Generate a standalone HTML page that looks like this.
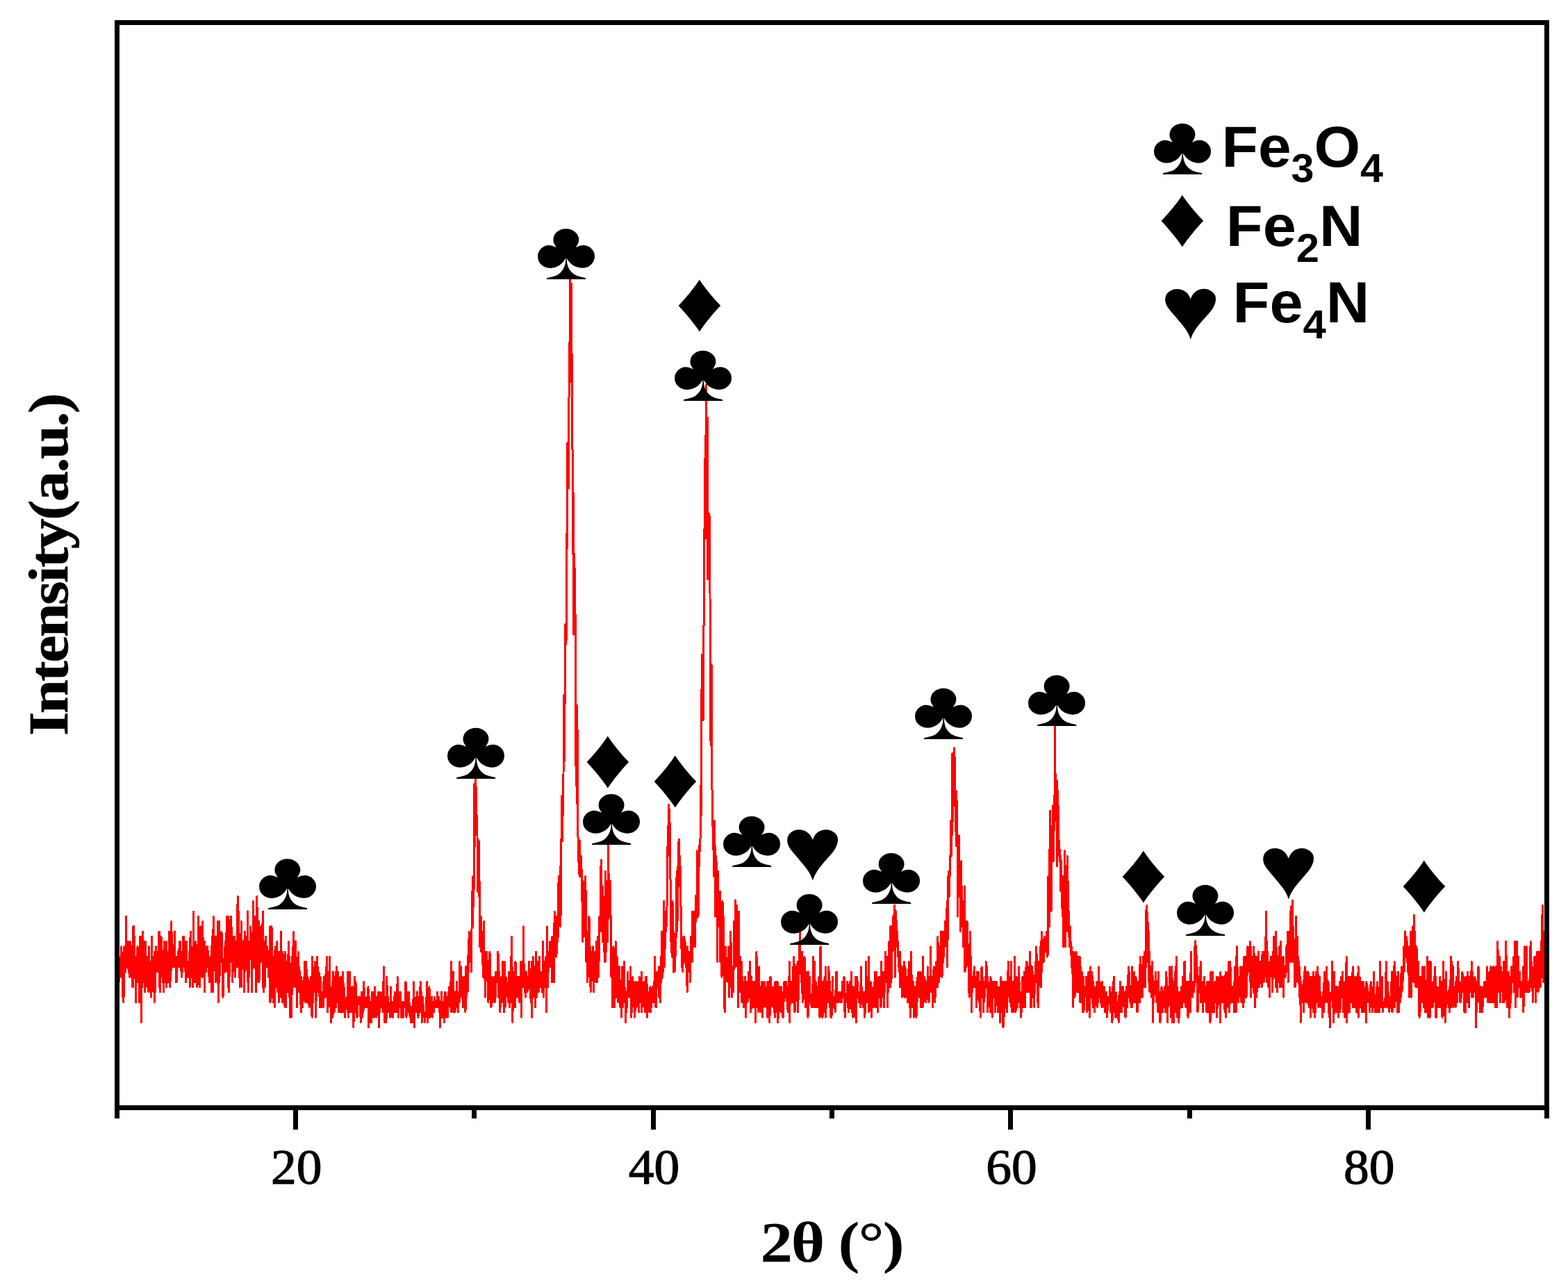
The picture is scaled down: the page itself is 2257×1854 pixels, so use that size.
<!DOCTYPE html>
<html lang="en"><head><meta charset="utf-8"><title>XRD pattern</title>
<style>html,body{margin:0;padding:0;background:#fff}body{width:2257px;height:1854px;overflow:hidden}svg{display:block}.sym{font-family:"Liberation Sans",sans-serif;font-size:200px;fill:#000}.tk{font-family:"Liberation Serif",serif;font-size:71px;fill:#000;text-anchor:middle;stroke:#000;stroke-width:1.2px}.ax{font-family:"Liberation Serif",serif;font-weight:bold;font-size:83px;fill:#000;text-anchor:middle}.lg{font-family:"Liberation Sans",sans-serif;font-weight:bold;font-size:84px;fill:#000}.sb{font-size:58px}</style></head><body>
<svg width="2257" height="1854" viewBox="0 0 2257 1854">
<rect width="2257" height="1854" fill="#fff"/>
<path d="M168.2,1370.0 L168.7,1406.2 L169.2,1370.0 L169.7,1406.2 L170.2,1413.5 L170.7,1391.8 L171.3,1413.5 L171.8,1384.5 L172.3,1391.8 L172.8,1384.5 L173.3,1391.8 L173.8,1377.2 L174.3,1406.2 L174.9,1362.8 L175.4,1391.8 L175.9,1377.2 L176.4,1435.2 L176.9,1391.8 L177.4,1406.2 L177.9,1442.5 L178.5,1406.2 L179.0,1362.8 L179.5,1384.5 L180.0,1377.2 L180.5,1399.0 L181.0,1399.0 L181.5,1319.2 L182.1,1377.2 L182.6,1355.5 L183.1,1384.5 L183.6,1384.5 L184.1,1355.5 L184.6,1384.5 L185.2,1399.0 L185.7,1391.8 L186.2,1406.2 L186.7,1399.0 L187.2,1355.5 L187.7,1384.5 L188.2,1406.2 L188.8,1362.8 L189.3,1399.0 L189.8,1362.8 L190.3,1370.0 L190.8,1420.8 L191.3,1420.8 L191.8,1333.8 L192.4,1406.2 L192.9,1333.8 L193.4,1391.8 L193.9,1370.0 L194.4,1399.0 L194.9,1399.0 L195.4,1442.5 L196.0,1413.5 L196.5,1377.2 L197.0,1406.2 L197.5,1413.5 L198.0,1362.8 L198.5,1384.5 L199.0,1384.5 L199.6,1391.8 L200.1,1377.2 L200.6,1442.5 L201.1,1370.0 L201.6,1348.2 L202.1,1355.5 L202.6,1348.2 L203.2,1471.5 L203.7,1413.5 L204.2,1420.8 L204.7,1420.8 L205.2,1341.0 L205.7,1362.8 L206.3,1384.5 L206.8,1384.5 L207.3,1355.5 L207.8,1406.2 L208.3,1428.0 L208.8,1362.8 L209.3,1355.5 L209.9,1384.5 L210.4,1384.5 L210.9,1377.2 L211.4,1406.2 L211.9,1420.8 L212.4,1377.2 L212.9,1399.0 L213.5,1391.8 L214.0,1428.0 L214.5,1362.8 L215.0,1399.0 L215.5,1413.5 L216.0,1406.2 L216.5,1384.5 L217.1,1435.2 L217.6,1428.0 L218.1,1428.0 L218.6,1348.2 L219.1,1406.2 L219.6,1377.2 L220.1,1391.8 L220.7,1399.0 L221.2,1428.0 L221.7,1377.2 L222.2,1442.5 L222.7,1370.0 L223.2,1406.2 L223.8,1428.0 L224.3,1362.8 L224.8,1362.8 L225.3,1377.2 L225.8,1370.0 L226.3,1370.0 L226.8,1399.0 L227.4,1384.5 L227.9,1384.5 L228.4,1399.0 L228.9,1341.0 L229.4,1420.8 L229.9,1341.0 L230.4,1428.0 L231.0,1384.5 L231.5,1370.0 L232.0,1348.2 L232.5,1362.8 L233.0,1391.8 L233.5,1406.2 L234.0,1370.0 L234.6,1413.5 L235.1,1413.5 L235.6,1428.0 L236.1,1355.5 L236.6,1413.5 L237.1,1406.2 L237.6,1406.2 L238.2,1377.2 L238.7,1399.0 L239.2,1355.5 L239.7,1420.8 L240.2,1413.5 L240.7,1391.8 L241.2,1377.2 L241.8,1413.5 L242.3,1370.0 L242.8,1406.2 L243.3,1370.0 L243.8,1341.0 L244.3,1399.0 L244.9,1420.8 L245.4,1384.5 L245.9,1406.2 L246.4,1370.0 L246.9,1326.5 L247.4,1391.8 L247.9,1355.5 L248.5,1377.2 L249.0,1384.5 L249.5,1391.8 L250.0,1370.0 L250.5,1370.0 L251.0,1384.5 L251.5,1341.0 L252.1,1391.8 L252.6,1384.5 L253.1,1377.2 L253.6,1413.5 L254.1,1413.5 L254.6,1384.5 L255.1,1391.8 L255.7,1377.2 L256.2,1384.5 L256.7,1370.0 L257.2,1391.8 L257.7,1384.5 L258.2,1355.5 L258.7,1391.8 L259.3,1355.5 L259.8,1384.5 L260.3,1370.0 L260.8,1391.8 L261.3,1406.2 L261.8,1399.0 L262.4,1399.0 L262.9,1399.0 L263.4,1348.2 L263.9,1370.0 L264.4,1348.2 L264.9,1384.5 L265.4,1391.8 L266.0,1355.5 L266.5,1362.8 L267.0,1399.0 L267.5,1413.5 L268.0,1370.0 L268.5,1355.5 L269.0,1406.2 L269.6,1399.0 L270.1,1406.2 L270.6,1384.5 L271.1,1406.2 L271.6,1406.2 L272.1,1391.8 L272.6,1370.0 L273.2,1420.8 L273.7,1362.8 L274.2,1341.0 L274.7,1377.2 L275.2,1362.8 L275.7,1406.2 L276.2,1384.5 L276.8,1391.8 L277.3,1420.8 L277.8,1413.5 L278.3,1312.0 L278.8,1413.5 L279.3,1384.5 L279.8,1384.5 L280.4,1406.2 L280.9,1413.5 L281.4,1391.8 L281.9,1355.5 L282.4,1370.0 L282.9,1370.0 L283.5,1362.8 L284.0,1420.8 L284.5,1377.2 L285.0,1370.0 L285.5,1319.2 L286.0,1399.0 L286.5,1370.0 L287.1,1399.0 L287.6,1420.8 L288.1,1399.0 L288.6,1333.8 L289.1,1341.0 L289.6,1348.2 L290.1,1406.2 L290.7,1355.5 L291.2,1406.2 L291.7,1326.5 L292.2,1362.8 L292.7,1355.5 L293.2,1384.5 L293.7,1377.2 L294.3,1428.0 L294.8,1355.5 L295.3,1399.0 L295.8,1384.5 L296.3,1399.0 L296.8,1370.0 L297.3,1391.8 L297.9,1362.8 L298.4,1362.8 L298.9,1362.8 L299.4,1384.5 L299.9,1384.5 L300.4,1399.0 L301.0,1406.2 L301.5,1413.5 L302.0,1384.5 L302.5,1399.0 L303.0,1377.2 L303.5,1384.5 L304.0,1391.8 L304.6,1428.0 L305.1,1348.2 L305.6,1399.0 L306.1,1391.8 L306.6,1428.0 L307.1,1319.2 L307.6,1370.0 L308.2,1377.2 L308.7,1370.0 L309.2,1377.2 L309.7,1370.0 L310.2,1413.5 L310.7,1348.2 L311.2,1377.2 L311.8,1384.5 L312.3,1391.8 L312.8,1362.8 L313.3,1326.5 L313.8,1399.0 L314.3,1442.5 L314.8,1406.2 L315.4,1326.5 L315.9,1413.5 L316.4,1377.2 L316.9,1384.5 L317.4,1355.5 L317.9,1348.2 L318.4,1355.5 L319.0,1341.0 L319.5,1384.5 L320.0,1377.2 L320.5,1413.5 L321.0,1435.2 L321.5,1413.5 L322.1,1391.8 L322.6,1399.0 L323.1,1391.8 L323.6,1399.0 L324.1,1355.5 L324.6,1391.8 L325.1,1399.0 L325.7,1384.5 L326.2,1319.2 L326.7,1355.5 L327.2,1362.8 L327.7,1333.8 L328.2,1420.8 L328.7,1319.2 L329.3,1326.5 L329.8,1428.0 L330.3,1377.2 L330.8,1355.5 L331.3,1348.2 L331.8,1377.2 L332.3,1319.2 L332.9,1319.2 L333.4,1384.5 L333.9,1377.2 L334.4,1384.5 L334.9,1413.5 L335.4,1348.2 L335.9,1362.8 L336.5,1399.0 L337.0,1391.8 L337.5,1348.2 L338.0,1391.8 L338.5,1406.2 L339.0,1355.5 L339.6,1391.8 L340.1,1370.0 L340.6,1384.5 L341.1,1362.8 L341.6,1355.5 L342.1,1290.2 L342.6,1391.8 L343.2,1312.0 L343.7,1370.0 L344.2,1355.5 L344.7,1384.5 L345.2,1420.8 L345.7,1384.5 L346.2,1377.2 L346.8,1355.5 L347.3,1326.5 L347.8,1420.8 L348.3,1362.8 L348.8,1384.5 L349.3,1355.5 L349.8,1362.8 L350.4,1391.8 L350.9,1355.5 L351.4,1428.0 L351.9,1355.5 L352.4,1341.0 L352.9,1399.0 L353.4,1391.8 L354.0,1377.2 L354.5,1370.0 L355.0,1377.2 L355.5,1348.2 L356.0,1384.5 L356.5,1312.0 L357.0,1413.5 L357.6,1428.0 L358.1,1370.0 L358.6,1406.2 L359.1,1377.2 L359.6,1355.5 L360.1,1362.8 L360.7,1333.8 L361.2,1348.2 L361.7,1362.8 L362.2,1377.2 L362.7,1428.0 L363.2,1377.2 L363.7,1391.8 L364.3,1297.5 L364.8,1377.2 L365.3,1391.8 L365.8,1391.8 L366.3,1384.5 L366.8,1319.2 L367.3,1341.0 L367.9,1384.5 L368.4,1428.0 L368.9,1362.8 L369.4,1348.2 L369.9,1290.2 L370.4,1362.8 L370.9,1406.2 L371.5,1391.8 L372.0,1413.5 L372.5,1326.5 L373.0,1413.5 L373.5,1370.0 L374.0,1384.5 L374.5,1362.8 L375.1,1384.5 L375.6,1333.8 L376.1,1362.8 L376.6,1341.0 L377.1,1377.2 L377.6,1370.0 L378.2,1312.0 L378.7,1413.5 L379.2,1428.0 L379.7,1377.2 L380.2,1420.8 L380.7,1355.5 L381.2,1420.8 L381.8,1377.2 L382.3,1348.2 L382.8,1384.5 L383.3,1384.5 L383.8,1370.0 L384.3,1391.8 L384.8,1362.8 L385.4,1377.2 L385.9,1391.8 L386.4,1391.8 L386.9,1406.2 L387.4,1406.2 L387.9,1399.0 L388.4,1333.8 L389.0,1442.5 L389.5,1420.8 L390.0,1413.5 L390.5,1406.2 L391.0,1333.8 L391.5,1362.8 L392.0,1413.5 L392.6,1413.5 L393.1,1442.5 L393.6,1377.2 L394.1,1428.0 L394.6,1413.5 L395.1,1449.8 L395.6,1377.2 L396.2,1362.8 L396.7,1370.0 L397.2,1384.5 L397.7,1420.8 L398.2,1391.8 L398.7,1355.5 L399.3,1428.0 L399.8,1377.2 L400.3,1399.0 L400.8,1391.8 L401.3,1442.5 L401.8,1370.0 L402.3,1413.5 L402.9,1413.5 L403.4,1384.5 L403.9,1377.2 L404.4,1341.0 L404.9,1435.2 L405.4,1420.8 L405.9,1399.0 L406.5,1442.5 L407.0,1370.0 L407.5,1435.2 L408.0,1406.2 L408.5,1406.2 L409.0,1413.5 L409.5,1435.2 L410.1,1449.8 L410.6,1370.0 L411.1,1428.0 L411.6,1449.8 L412.1,1420.8 L412.6,1428.0 L413.1,1384.5 L413.7,1420.8 L414.2,1391.8 L414.7,1406.2 L415.2,1355.5 L415.7,1420.8 L416.2,1435.2 L416.8,1377.2 L417.3,1399.0 L417.8,1464.2 L418.3,1413.5 L418.8,1413.5 L419.3,1399.0 L419.8,1464.2 L420.4,1377.2 L420.9,1406.2 L421.4,1362.8 L421.9,1420.8 L422.4,1391.8 L422.9,1341.0 L423.4,1391.8 L424.0,1413.5 L424.5,1399.0 L425.0,1420.8 L425.5,1355.5 L426.0,1420.8 L426.5,1384.5 L427.0,1384.5 L427.6,1449.8 L428.1,1420.8 L428.6,1413.5 L429.1,1370.0 L429.6,1428.0 L430.1,1406.2 L430.6,1391.8 L431.2,1399.0 L431.7,1406.2 L432.2,1420.8 L432.7,1428.0 L433.2,1457.0 L433.7,1406.2 L434.2,1413.5 L434.8,1420.8 L435.3,1413.5 L435.8,1449.8 L436.3,1428.0 L436.8,1413.5 L437.3,1435.2 L437.9,1413.5 L438.4,1384.5 L438.9,1413.5 L439.4,1442.5 L439.9,1406.2 L440.4,1435.2 L440.9,1384.5 L441.5,1442.5 L442.0,1442.5 L442.5,1413.5 L443.0,1406.2 L443.5,1442.5 L444.0,1428.0 L444.5,1428.0 L445.1,1449.8 L445.6,1420.8 L446.1,1413.5 L446.6,1442.5 L447.1,1406.2 L447.6,1420.8 L448.1,1420.8 L448.7,1457.0 L449.2,1464.2 L449.7,1377.2 L450.2,1442.5 L450.7,1442.5 L451.2,1413.5 L451.7,1406.2 L452.3,1391.8 L452.8,1420.8 L453.3,1384.5 L453.8,1428.0 L454.3,1399.0 L454.8,1464.2 L455.4,1399.0 L455.9,1413.5 L456.4,1377.2 L456.9,1428.0 L457.4,1391.8 L457.9,1428.0 L458.4,1413.5 L459.0,1399.0 L459.5,1428.0 L460.0,1435.2 L460.5,1449.8 L461.0,1406.2 L461.5,1413.5 L462.0,1442.5 L462.6,1449.8 L463.1,1428.0 L463.6,1449.8 L464.1,1435.2 L464.6,1428.0 L465.1,1449.8 L465.6,1428.0 L466.2,1406.2 L466.7,1428.0 L467.2,1413.5 L467.7,1435.2 L468.2,1435.2 L468.7,1420.8 L469.2,1391.8 L469.8,1413.5 L470.3,1428.0 L470.8,1377.2 L471.3,1428.0 L471.8,1457.0 L472.3,1420.8 L472.8,1420.8 L473.4,1442.5 L473.9,1442.5 L474.4,1377.2 L474.9,1449.8 L475.4,1428.0 L475.9,1428.0 L476.5,1471.5 L477.0,1435.2 L477.5,1420.8 L478.0,1442.5 L478.5,1413.5 L479.0,1464.2 L479.5,1399.0 L480.1,1457.0 L480.6,1406.2 L481.1,1457.0 L481.6,1435.2 L482.1,1428.0 L482.6,1442.5 L483.1,1399.0 L483.7,1449.8 L484.2,1391.8 L484.7,1420.8 L485.2,1442.5 L485.7,1428.0 L486.2,1399.0 L486.7,1406.2 L487.3,1457.0 L487.8,1420.8 L488.3,1413.5 L488.8,1457.0 L489.3,1413.5 L489.8,1406.2 L490.3,1435.2 L490.9,1413.5 L491.4,1457.0 L491.9,1457.0 L492.4,1406.2 L492.9,1428.0 L493.4,1399.0 L494.0,1413.5 L494.5,1457.0 L495.0,1420.8 L495.5,1435.2 L496.0,1435.2 L496.5,1464.2 L497.0,1442.5 L497.6,1449.8 L498.1,1442.5 L498.6,1442.5 L499.1,1449.8 L499.6,1435.2 L500.1,1457.0 L500.6,1399.0 L501.2,1464.2 L501.7,1457.0 L502.2,1428.0 L502.7,1428.0 L503.2,1399.0 L503.7,1428.0 L504.2,1442.5 L504.8,1457.0 L505.3,1449.8 L505.8,1457.0 L506.3,1420.8 L506.8,1428.0 L507.3,1420.8 L507.8,1457.0 L508.4,1435.2 L508.9,1478.8 L509.4,1442.5 L509.9,1457.0 L510.4,1406.2 L510.9,1442.5 L511.4,1428.0 L512.0,1413.5 L512.5,1457.0 L513.0,1442.5 L513.5,1442.5 L514.0,1464.2 L514.5,1457.0 L515.1,1442.5 L515.6,1435.2 L516.1,1435.2 L516.6,1435.2 L517.1,1435.2 L517.6,1435.2 L518.1,1449.8 L518.7,1449.8 L519.2,1471.5 L519.7,1449.8 L520.2,1428.0 L520.7,1442.5 L521.2,1457.0 L521.7,1464.2 L522.3,1435.2 L522.8,1457.0 L523.3,1449.8 L523.8,1413.5 L524.3,1435.2 L524.8,1435.2 L525.3,1442.5 L525.9,1449.8 L526.4,1442.5 L526.9,1442.5 L527.4,1449.8 L527.9,1435.2 L528.4,1442.5 L528.9,1442.5 L529.5,1428.0 L530.0,1420.8 L530.5,1478.8 L531.0,1471.5 L531.5,1435.2 L532.0,1471.5 L532.6,1449.8 L533.1,1449.8 L533.6,1449.8 L534.1,1442.5 L534.6,1471.5 L535.1,1464.2 L535.6,1428.0 L536.2,1435.2 L536.7,1428.0 L537.2,1449.8 L537.7,1449.8 L538.2,1464.2 L538.7,1428.0 L539.2,1428.0 L539.8,1420.8 L540.3,1449.8 L540.8,1449.8 L541.3,1464.2 L541.8,1464.2 L542.3,1435.2 L542.8,1442.5 L543.4,1449.8 L543.9,1449.8 L544.4,1428.0 L544.9,1457.0 L545.4,1478.8 L545.9,1435.2 L546.4,1457.0 L547.0,1428.0 L547.5,1442.5 L548.0,1442.5 L548.5,1449.8 L549.0,1449.8 L549.5,1442.5 L550.0,1428.0 L550.6,1435.2 L551.1,1457.0 L551.6,1413.5 L552.1,1428.0 L552.6,1391.8 L553.1,1449.8 L553.7,1471.5 L554.2,1435.2 L554.7,1457.0 L555.2,1442.5 L555.7,1471.5 L556.2,1464.2 L556.7,1406.2 L557.3,1428.0 L557.8,1449.8 L558.3,1435.2 L558.8,1449.8 L559.3,1442.5 L559.8,1457.0 L560.3,1449.8 L560.9,1457.0 L561.4,1457.0 L561.9,1464.2 L562.4,1420.8 L562.9,1457.0 L563.4,1457.0 L563.9,1449.8 L564.5,1442.5 L565.0,1464.2 L565.5,1464.2 L566.0,1442.5 L566.5,1457.0 L567.0,1442.5 L567.5,1435.2 L568.1,1442.5 L568.6,1428.0 L569.1,1442.5 L569.6,1457.0 L570.1,1435.2 L570.6,1428.0 L571.2,1428.0 L571.7,1435.2 L572.2,1406.2 L572.7,1457.0 L573.2,1449.8 L573.7,1464.2 L574.2,1442.5 L574.8,1442.5 L575.3,1449.8 L575.8,1428.0 L576.3,1428.0 L576.8,1449.8 L577.3,1442.5 L577.8,1464.2 L578.4,1449.8 L578.9,1464.2 L579.4,1442.5 L579.9,1464.2 L580.4,1464.2 L580.9,1449.8 L581.4,1442.5 L582.0,1442.5 L582.5,1449.8 L583.0,1442.5 L583.5,1449.8 L584.0,1413.5 L584.5,1442.5 L585.0,1464.2 L585.6,1428.0 L586.1,1457.0 L586.6,1457.0 L587.1,1457.0 L587.6,1442.5 L588.1,1449.8 L588.6,1428.0 L589.2,1449.8 L589.7,1457.0 L590.2,1464.2 L590.7,1449.8 L591.2,1471.5 L591.7,1449.8 L592.3,1449.8 L592.8,1471.5 L593.3,1449.8 L593.8,1457.0 L594.3,1471.5 L594.8,1457.0 L595.3,1413.5 L595.9,1464.2 L596.4,1478.8 L596.9,1457.0 L597.4,1442.5 L597.9,1457.0 L598.4,1442.5 L598.9,1435.2 L599.5,1457.0 L600.0,1449.8 L600.5,1428.0 L601.0,1442.5 L601.5,1435.2 L602.0,1464.2 L602.5,1435.2 L603.1,1449.8 L603.6,1435.2 L604.1,1442.5 L604.6,1457.0 L605.1,1413.5 L605.6,1457.0 L606.1,1457.0 L606.7,1428.0 L607.2,1471.5 L607.7,1449.8 L608.2,1449.8 L608.7,1435.2 L609.2,1449.8 L609.8,1449.8 L610.3,1464.2 L610.8,1457.0 L611.3,1471.5 L611.8,1457.0 L612.3,1464.2 L612.8,1464.2 L613.4,1449.8 L613.9,1435.2 L614.4,1457.0 L614.9,1413.5 L615.4,1471.5 L615.9,1442.5 L616.4,1464.2 L617.0,1457.0 L617.5,1464.2 L618.0,1420.8 L618.5,1464.2 L619.0,1464.2 L619.5,1449.8 L620.0,1449.8 L620.6,1457.0 L621.1,1449.8 L621.6,1435.2 L622.1,1449.8 L622.6,1464.2 L623.1,1449.8 L623.6,1457.0 L624.2,1442.5 L624.7,1457.0 L625.2,1435.2 L625.7,1449.8 L626.2,1442.5 L626.7,1442.5 L627.2,1449.8 L627.8,1442.5 L628.3,1449.8 L628.8,1442.5 L629.3,1435.2 L629.8,1428.0 L630.3,1449.8 L630.9,1435.2 L631.4,1435.2 L631.9,1435.2 L632.4,1457.0 L632.9,1449.8 L633.4,1478.8 L633.9,1442.5 L634.5,1449.8 L635.0,1449.8 L635.5,1428.0 L636.0,1464.2 L636.5,1442.5 L637.0,1464.2 L637.5,1442.5 L638.1,1442.5 L638.6,1442.5 L639.1,1471.5 L639.6,1435.2 L640.1,1449.8 L640.6,1428.0 L641.1,1428.0 L641.7,1457.0 L642.2,1449.8 L642.7,1464.2 L643.2,1442.5 L643.7,1449.8 L644.2,1435.2 L644.7,1464.2 L645.3,1428.0 L645.8,1442.5 L646.3,1442.5 L646.8,1420.8 L647.3,1428.0 L647.8,1449.8 L648.4,1420.8 L648.9,1420.8 L649.4,1384.5 L649.9,1457.0 L650.4,1406.2 L650.9,1406.2 L651.4,1413.5 L652.0,1449.8 L652.5,1399.0 L653.0,1457.0 L653.5,1457.0 L654.0,1435.2 L654.5,1428.0 L655.0,1457.0 L655.6,1435.2 L656.1,1428.0 L656.6,1442.5 L657.1,1442.5 L657.6,1413.5 L658.1,1449.8 L658.6,1435.2 L659.2,1457.0 L659.7,1449.8 L660.2,1428.0 L660.7,1435.2 L661.2,1442.5 L661.7,1384.5 L662.2,1413.5 L662.8,1413.5 L663.3,1391.8 L663.8,1391.8 L664.3,1435.2 L664.8,1406.2 L665.3,1428.0 L665.8,1413.5 L666.4,1449.8 L666.9,1449.8 L667.4,1413.5 L667.9,1406.2 L668.4,1435.2 L668.9,1428.0 L669.5,1420.8 L670.0,1457.0 L670.5,1391.8 L671.0,1406.2 L671.5,1435.2 L672.0,1391.8 L672.5,1420.8 L673.1,1428.0 L673.6,1399.0 L674.1,1370.0 L674.6,1399.0 L675.1,1341.0 L675.6,1384.5 L676.1,1348.2 L676.7,1370.0 L677.2,1384.5 L677.7,1355.5 L678.2,1399.0 L678.7,1370.0 L679.2,1319.2 L679.7,1283.0 L680.3,1333.8 L680.8,1261.2 L681.3,1268.5 L681.8,1304.8 L682.3,1246.8 L682.8,1128.2 L683.3,1217.8 L683.9,1181.5 L684.4,1159.8 L684.9,1121.0 L685.4,1167.0 L685.9,1174.2 L686.4,1174.2 L687.0,1203.2 L687.5,1283.0 L688.0,1232.2 L688.5,1275.8 L689.0,1210.5 L689.5,1290.2 L690.0,1268.5 L690.6,1362.8 L691.1,1326.5 L691.6,1333.8 L692.1,1319.2 L692.6,1370.0 L693.1,1341.0 L693.6,1355.5 L694.2,1341.0 L694.7,1370.0 L695.2,1399.0 L695.7,1406.2 L696.2,1406.2 L696.7,1326.5 L697.2,1399.0 L697.8,1391.8 L698.3,1435.2 L698.8,1391.8 L699.3,1370.0 L699.8,1406.2 L700.3,1370.0 L700.8,1377.2 L701.4,1391.8 L701.9,1406.2 L702.4,1435.2 L702.9,1442.5 L703.4,1428.0 L703.9,1391.8 L704.4,1420.8 L705.0,1370.0 L705.5,1420.8 L706.0,1435.2 L706.5,1442.5 L707.0,1449.8 L707.5,1435.2 L708.1,1406.2 L708.6,1435.2 L709.1,1442.5 L709.6,1420.8 L710.1,1435.2 L710.6,1428.0 L711.1,1406.2 L711.7,1413.5 L712.2,1442.5 L712.7,1435.2 L713.2,1435.2 L713.7,1399.0 L714.2,1406.2 L714.7,1406.2 L715.3,1413.5 L715.8,1413.5 L716.3,1413.5 L716.8,1370.0 L717.3,1377.2 L717.8,1435.2 L718.3,1406.2 L718.9,1399.0 L719.4,1435.2 L719.9,1457.0 L720.4,1428.0 L720.9,1435.2 L721.4,1435.2 L721.9,1406.2 L722.5,1420.8 L723.0,1442.5 L723.5,1384.5 L724.0,1420.8 L724.5,1442.5 L725.0,1399.0 L725.6,1457.0 L726.1,1384.5 L726.6,1428.0 L727.1,1449.8 L727.6,1435.2 L728.1,1406.2 L728.6,1428.0 L729.2,1413.5 L729.7,1428.0 L730.2,1420.8 L730.7,1435.2 L731.2,1435.2 L731.7,1442.5 L732.2,1428.0 L732.8,1399.0 L733.3,1449.8 L733.8,1406.2 L734.3,1435.2 L734.8,1442.5 L735.3,1377.2 L735.8,1391.8 L736.4,1348.2 L736.9,1428.0 L737.4,1391.8 L737.9,1471.5 L738.4,1406.2 L738.9,1428.0 L739.4,1428.0 L740.0,1435.2 L740.5,1399.0 L741.0,1428.0 L741.5,1449.8 L742.0,1384.5 L742.5,1406.2 L743.0,1428.0 L743.6,1435.2 L744.1,1406.2 L744.6,1428.0 L745.1,1406.2 L745.6,1435.2 L746.1,1413.5 L746.7,1406.2 L747.2,1435.2 L747.7,1442.5 L748.2,1413.5 L748.7,1413.5 L749.2,1442.5 L749.7,1384.5 L750.3,1464.2 L750.8,1391.8 L751.3,1406.2 L751.8,1420.8 L752.3,1384.5 L752.8,1420.8 L753.3,1333.8 L753.9,1377.2 L754.4,1420.8 L754.9,1399.0 L755.4,1413.5 L755.9,1428.0 L756.4,1435.2 L756.9,1428.0 L757.5,1399.0 L758.0,1420.8 L758.5,1420.8 L759.0,1428.0 L759.5,1413.5 L760.0,1406.2 L760.5,1420.8 L761.1,1413.5 L761.6,1384.5 L762.1,1406.2 L762.6,1406.2 L763.1,1428.0 L763.6,1428.0 L764.2,1442.5 L764.7,1413.5 L765.2,1384.5 L765.7,1464.2 L766.2,1413.5 L766.7,1399.0 L767.2,1377.2 L767.8,1435.2 L768.3,1420.8 L768.8,1413.5 L769.3,1391.8 L769.8,1399.0 L770.3,1449.8 L770.8,1428.0 L771.4,1370.0 L771.9,1377.2 L772.4,1420.8 L772.9,1435.2 L773.4,1399.0 L773.9,1413.5 L774.4,1384.5 L775.0,1413.5 L775.5,1428.0 L776.0,1391.8 L776.5,1377.2 L777.0,1406.2 L777.5,1399.0 L778.0,1420.8 L778.6,1399.0 L779.1,1420.8 L779.6,1413.5 L780.1,1420.8 L780.6,1428.0 L781.1,1399.0 L781.6,1355.5 L782.2,1399.0 L782.7,1435.2 L783.2,1384.5 L783.7,1384.5 L784.2,1420.8 L784.7,1384.5 L785.3,1420.8 L785.8,1377.2 L786.3,1457.0 L786.8,1399.0 L787.3,1391.8 L787.8,1333.8 L788.3,1420.8 L788.9,1384.5 L789.4,1399.0 L789.9,1399.0 L790.4,1370.0 L790.9,1391.8 L791.4,1391.8 L791.9,1355.5 L792.5,1370.0 L793.0,1377.2 L793.5,1384.5 L794.0,1384.5 L794.5,1413.5 L795.0,1348.2 L795.5,1348.2 L796.1,1370.0 L796.6,1348.2 L797.1,1355.5 L797.6,1413.5 L798.1,1312.0 L798.6,1341.0 L799.1,1333.8 L799.7,1319.2 L800.2,1362.8 L800.7,1377.2 L801.2,1370.0 L801.7,1341.0 L802.2,1319.2 L802.8,1355.5 L803.3,1341.0 L803.8,1275.8 L804.3,1261.2 L804.8,1290.2 L805.3,1304.8 L805.8,1297.5 L806.4,1246.8 L806.9,1333.8 L807.4,1268.5 L807.9,1210.5 L808.4,1196.0 L808.9,1145.2 L809.4,1210.5 L810.0,1174.2 L810.5,1159.8 L811.0,1116.2 L811.5,1029.2 L812.0,1000.2 L812.5,1094.5 L813.0,1014.8 L813.6,898.8 L814.1,920.5 L814.6,927.8 L815.1,920.5 L815.6,768.2 L816.1,790.0 L816.6,637.8 L817.2,652.2 L817.7,659.5 L818.2,688.5 L818.7,703.0 L819.2,500.0 L819.7,492.8 L820.2,550.8 L820.8,401.0 L821.3,434.8 L821.8,463.8 L822.3,471.0 L822.8,408.2 L823.3,645.0 L823.9,623.2 L824.4,732.0 L824.9,797.2 L825.4,710.2 L825.9,913.2 L826.4,797.2 L826.9,804.5 L827.5,869.8 L828.0,884.2 L828.5,1101.8 L829.0,1087.2 L829.5,1130.8 L830.0,1014.8 L830.5,1109.0 L831.1,1167.0 L831.6,1051.0 L832.1,1239.5 L832.6,1217.8 L833.1,1210.5 L833.6,1246.8 L834.1,1261.2 L834.7,1210.5 L835.2,1254.0 L835.7,1261.2 L836.2,1254.0 L836.7,1232.2 L837.2,1261.2 L837.7,1290.2 L838.3,1304.8 L838.8,1355.5 L839.3,1268.5 L839.8,1333.8 L840.3,1348.2 L840.8,1341.0 L841.4,1290.2 L841.9,1319.2 L842.4,1304.8 L842.9,1261.2 L843.4,1348.2 L843.9,1384.5 L844.4,1370.0 L845.0,1341.0 L845.5,1413.5 L846.0,1341.0 L846.5,1406.2 L847.0,1377.2 L847.5,1326.5 L848.0,1319.2 L848.6,1377.2 L849.1,1362.8 L849.6,1384.5 L850.1,1428.0 L850.6,1370.0 L851.1,1399.0 L851.6,1406.2 L852.2,1384.5 L852.7,1384.5 L853.2,1362.8 L853.7,1384.5 L854.2,1428.0 L854.7,1377.2 L855.2,1399.0 L855.8,1370.0 L856.3,1391.8 L856.8,1370.0 L857.3,1384.5 L857.8,1413.5 L858.3,1355.5 L858.8,1384.5 L859.4,1413.5 L859.9,1399.0 L860.4,1348.2 L860.9,1362.8 L861.4,1406.2 L861.9,1391.8 L862.5,1355.5 L863.0,1319.2 L863.5,1326.5 L864.0,1341.0 L864.5,1312.0 L865.0,1246.8 L865.5,1238.0 L866.1,1297.5 L866.6,1341.0 L867.1,1275.8 L867.6,1355.5 L868.1,1290.2 L868.6,1319.2 L869.1,1304.8 L869.7,1370.0 L870.2,1348.2 L870.7,1384.5 L871.2,1384.5 L871.7,1254.0 L872.2,1370.0 L872.7,1348.2 L873.3,1268.5 L873.8,1319.2 L874.3,1290.2 L874.8,1355.5 L875.3,1283.0 L875.8,1217.0 L876.3,1312.0 L876.9,1312.0 L877.4,1304.8 L877.9,1319.2 L878.4,1268.5 L878.9,1304.8 L879.4,1362.8 L880.0,1406.2 L880.5,1399.0 L881.0,1377.2 L881.5,1449.8 L882.0,1406.2 L882.5,1449.8 L883.0,1362.8 L883.6,1399.0 L884.1,1428.0 L884.6,1449.8 L885.1,1435.2 L885.6,1420.8 L886.1,1355.5 L886.6,1428.0 L887.2,1435.2 L887.7,1406.2 L888.2,1377.2 L888.7,1399.0 L889.2,1435.2 L889.7,1442.5 L890.2,1420.8 L890.8,1391.8 L891.3,1435.2 L891.8,1391.8 L892.3,1435.2 L892.8,1449.8 L893.3,1413.5 L893.8,1435.2 L894.4,1464.2 L894.9,1420.8 L895.4,1391.8 L895.9,1413.5 L896.4,1449.8 L896.9,1435.2 L897.4,1413.5 L898.0,1442.5 L898.5,1384.5 L899.0,1420.8 L899.5,1435.2 L900.0,1442.5 L900.5,1471.5 L901.1,1435.2 L901.6,1457.0 L902.1,1428.0 L902.6,1449.8 L903.1,1420.8 L903.6,1399.0 L904.1,1413.5 L904.7,1413.5 L905.2,1435.2 L905.7,1428.0 L906.2,1435.2 L906.7,1420.8 L907.2,1435.2 L907.7,1391.8 L908.3,1464.2 L908.8,1457.0 L909.3,1457.0 L909.8,1449.8 L910.3,1413.5 L910.8,1406.2 L911.3,1420.8 L911.9,1435.2 L912.4,1435.2 L912.9,1449.8 L913.4,1435.2 L913.9,1464.2 L914.4,1428.0 L914.9,1413.5 L915.5,1449.8 L916.0,1449.8 L916.5,1428.0 L917.0,1428.0 L917.5,1420.8 L918.0,1413.5 L918.6,1428.0 L919.1,1428.0 L919.6,1457.0 L920.1,1406.2 L920.6,1413.5 L921.1,1435.2 L921.6,1428.0 L922.2,1442.5 L922.7,1442.5 L923.2,1399.0 L923.7,1457.0 L924.2,1413.5 L924.7,1442.5 L925.2,1435.2 L925.8,1428.0 L926.3,1442.5 L926.8,1449.8 L927.3,1413.5 L927.8,1413.5 L928.3,1442.5 L928.8,1457.0 L929.4,1406.2 L929.9,1406.2 L930.4,1449.8 L930.9,1406.2 L931.4,1449.8 L931.9,1464.2 L932.4,1435.2 L933.0,1449.8 L933.5,1435.2 L934.0,1428.0 L934.5,1435.2 L935.0,1457.0 L935.5,1428.0 L936.0,1420.8 L936.6,1457.0 L937.1,1435.2 L937.6,1449.8 L938.1,1428.0 L938.6,1435.2 L939.1,1420.8 L939.7,1442.5 L940.2,1428.0 L940.7,1442.5 L941.2,1413.5 L941.7,1442.5 L942.2,1428.0 L942.7,1377.2 L943.3,1442.5 L943.8,1449.8 L944.3,1449.8 L944.8,1435.2 L945.3,1406.2 L945.8,1399.0 L946.3,1420.8 L946.9,1413.5 L947.4,1420.8 L947.9,1413.5 L948.4,1435.2 L948.9,1391.8 L949.4,1391.8 L949.9,1420.8 L950.5,1442.5 L951.0,1399.0 L951.5,1377.2 L952.0,1413.5 L952.5,1341.0 L953.0,1391.8 L953.5,1406.2 L954.1,1399.0 L954.6,1377.2 L955.1,1391.8 L955.6,1297.5 L956.1,1362.8 L956.6,1391.8 L957.2,1355.5 L957.7,1319.2 L958.2,1341.0 L958.7,1312.0 L959.2,1333.8 L959.7,1319.2 L960.2,1297.5 L960.8,1239.5 L961.3,1188.8 L961.8,1232.2 L962.3,1158.0 L962.8,1165.2 L963.3,1165.2 L963.8,1174.2 L964.4,1203.2 L964.9,1254.0 L965.4,1304.8 L965.9,1355.5 L966.4,1341.0 L966.9,1370.0 L967.4,1377.2 L968.0,1297.5 L968.5,1333.8 L969.0,1341.0 L969.5,1399.0 L970.0,1341.0 L970.5,1377.2 L971.0,1399.0 L971.6,1355.5 L972.1,1377.2 L972.6,1355.5 L973.1,1348.2 L973.6,1304.8 L974.1,1254.0 L974.6,1341.0 L975.2,1319.2 L975.7,1261.2 L976.2,1239.5 L976.7,1215.2 L977.2,1208.0 L977.7,1215.2 L978.3,1275.8 L978.8,1232.2 L979.3,1268.5 L979.8,1304.8 L980.3,1304.8 L980.8,1348.2 L981.3,1391.8 L981.9,1355.5 L982.4,1370.0 L982.9,1399.0 L983.4,1355.5 L983.9,1348.2 L984.4,1355.5 L984.9,1348.2 L985.5,1362.8 L986.0,1355.5 L986.5,1384.5 L987.0,1377.2 L987.5,1391.8 L988.0,1377.2 L988.5,1370.0 L989.1,1428.0 L989.6,1362.8 L990.1,1377.2 L990.6,1399.0 L991.1,1391.8 L991.6,1377.2 L992.1,1391.8 L992.7,1370.0 L993.2,1413.5 L993.7,1384.5 L994.2,1370.0 L994.7,1348.2 L995.2,1355.5 L995.8,1355.5 L996.3,1384.5 L996.8,1312.0 L997.3,1362.8 L997.8,1362.8 L998.3,1312.0 L998.8,1362.8 L999.4,1355.5 L999.9,1341.0 L1000.4,1362.8 L1000.9,1341.0 L1001.4,1289.2 L1001.9,1326.5 L1002.4,1312.0 L1003.0,1289.2 L1003.5,1225.0 L1004.0,1304.8 L1004.5,1246.8 L1005.0,1319.2 L1005.5,1275.8 L1006.0,1246.8 L1006.6,1246.8 L1007.1,1210.5 L1007.6,1225.0 L1008.1,1203.2 L1008.6,1130.8 L1009.1,1174.2 L1009.6,1109.0 L1010.2,942.2 L1010.7,1022.0 L1011.2,993.0 L1011.7,1007.5 L1012.2,1036.5 L1012.7,971.2 L1013.2,862.5 L1013.8,811.8 L1014.3,695.8 L1014.8,659.5 L1015.3,775.5 L1015.8,681.2 L1016.3,554.0 L1016.9,717.5 L1017.4,753.8 L1017.9,674.0 L1018.4,601.5 L1018.9,833.5 L1019.4,753.8 L1019.9,797.2 L1020.5,753.8 L1021.0,739.2 L1021.5,811.8 L1022.0,855.2 L1022.5,1065.5 L1023.0,1065.5 L1023.5,1072.8 L1024.1,956.8 L1024.6,1000.2 L1025.1,1167.0 L1025.6,1188.8 L1026.1,1188.8 L1026.6,1181.5 L1027.1,1232.2 L1027.7,1261.2 L1028.2,1181.5 L1028.7,1225.0 L1029.2,1217.8 L1029.7,1319.2 L1030.2,1232.2 L1030.7,1232.2 L1031.3,1246.8 L1031.8,1297.5 L1032.3,1312.0 L1032.8,1384.5 L1033.3,1254.0 L1033.8,1297.5 L1034.4,1319.2 L1034.9,1333.8 L1035.4,1333.8 L1035.9,1304.8 L1036.4,1283.0 L1036.9,1384.5 L1037.4,1304.8 L1038.0,1319.2 L1038.5,1377.2 L1039.0,1406.2 L1039.5,1348.2 L1040.0,1297.5 L1040.5,1341.0 L1041.0,1319.2 L1041.6,1391.8 L1042.1,1406.2 L1042.6,1428.0 L1043.1,1457.0 L1043.6,1377.2 L1044.1,1413.5 L1044.6,1362.8 L1045.2,1384.5 L1045.7,1384.5 L1046.2,1384.5 L1046.7,1406.2 L1047.2,1399.0 L1047.7,1413.5 L1048.2,1370.0 L1048.8,1362.8 L1049.3,1435.2 L1049.8,1428.0 L1050.3,1406.2 L1050.8,1420.8 L1051.3,1370.0 L1051.8,1341.0 L1052.4,1384.5 L1052.9,1384.5 L1053.4,1435.2 L1053.9,1399.0 L1054.4,1406.2 L1054.9,1391.8 L1055.5,1428.0 L1056.0,1399.0 L1056.5,1326.5 L1057.0,1370.0 L1057.5,1377.2 L1058.0,1348.2 L1058.5,1296.0 L1059.1,1391.8 L1059.6,1384.5 L1060.1,1362.8 L1060.6,1303.2 L1061.1,1319.2 L1061.6,1377.2 L1062.1,1370.0 L1062.7,1449.8 L1063.2,1362.8 L1063.7,1312.0 L1064.2,1428.0 L1064.7,1413.5 L1065.2,1428.0 L1065.7,1377.2 L1066.3,1406.2 L1066.8,1413.5 L1067.3,1384.5 L1067.8,1442.5 L1068.3,1406.2 L1068.8,1413.5 L1069.3,1428.0 L1069.9,1442.5 L1070.4,1449.8 L1070.9,1413.5 L1071.4,1428.0 L1071.9,1435.2 L1072.4,1406.2 L1073.0,1428.0 L1073.5,1464.2 L1074.0,1413.5 L1074.5,1428.0 L1075.0,1435.2 L1075.5,1413.5 L1076.0,1442.5 L1076.6,1435.2 L1077.1,1413.5 L1077.6,1399.0 L1078.1,1406.2 L1078.6,1435.2 L1079.1,1399.0 L1079.6,1384.5 L1080.2,1413.5 L1080.7,1457.0 L1081.2,1449.8 L1081.7,1406.2 L1082.2,1442.5 L1082.7,1413.5 L1083.2,1442.5 L1083.8,1413.5 L1084.3,1449.8 L1084.8,1435.2 L1085.3,1442.5 L1085.8,1449.8 L1086.3,1413.5 L1086.8,1413.5 L1087.4,1471.5 L1087.9,1413.5 L1088.4,1449.8 L1088.9,1370.0 L1089.4,1399.0 L1089.9,1442.5 L1090.4,1449.8 L1091.0,1399.0 L1091.5,1413.5 L1092.0,1457.0 L1092.5,1391.8 L1093.0,1435.2 L1093.5,1435.2 L1094.1,1435.2 L1094.6,1428.0 L1095.1,1457.0 L1095.6,1449.8 L1096.1,1413.5 L1096.6,1428.0 L1097.1,1413.5 L1097.7,1464.2 L1098.2,1420.8 L1098.7,1420.8 L1099.2,1449.8 L1099.7,1428.0 L1100.2,1413.5 L1100.7,1428.0 L1101.3,1420.8 L1101.8,1420.8 L1102.3,1428.0 L1102.8,1449.8 L1103.3,1428.0 L1103.8,1420.8 L1104.3,1464.2 L1104.9,1413.5 L1105.4,1413.5 L1105.9,1442.5 L1106.4,1428.0 L1106.9,1435.2 L1107.4,1413.5 L1107.9,1471.5 L1108.5,1420.8 L1109.0,1406.2 L1109.5,1413.5 L1110.0,1449.8 L1110.5,1420.8 L1111.0,1442.5 L1111.6,1442.5 L1112.1,1428.0 L1112.6,1420.8 L1113.1,1435.2 L1113.6,1449.8 L1114.1,1435.2 L1114.6,1442.5 L1115.2,1464.2 L1115.7,1413.5 L1116.2,1449.8 L1116.7,1457.0 L1117.2,1413.5 L1117.7,1435.2 L1118.2,1428.0 L1118.8,1442.5 L1119.3,1413.5 L1119.8,1471.5 L1120.3,1457.0 L1120.8,1449.8 L1121.3,1420.8 L1121.8,1435.2 L1122.4,1428.0 L1122.9,1435.2 L1123.4,1420.8 L1123.9,1457.0 L1124.4,1420.8 L1124.9,1457.0 L1125.4,1442.5 L1126.0,1428.0 L1126.5,1442.5 L1127.0,1464.2 L1127.5,1457.0 L1128.0,1442.5 L1128.5,1420.8 L1129.0,1413.5 L1129.6,1435.2 L1130.1,1428.0 L1130.6,1435.2 L1131.1,1435.2 L1131.6,1413.5 L1132.1,1435.2 L1132.7,1428.0 L1133.2,1449.8 L1133.7,1449.8 L1134.2,1457.0 L1134.7,1442.5 L1135.2,1406.2 L1135.7,1435.2 L1136.3,1384.5 L1136.8,1471.5 L1137.3,1413.5 L1137.8,1420.8 L1138.3,1420.8 L1138.8,1435.2 L1139.3,1413.5 L1139.9,1413.5 L1140.4,1442.5 L1140.9,1435.2 L1141.4,1391.8 L1141.9,1435.2 L1142.4,1442.5 L1142.9,1377.2 L1143.5,1428.0 L1144.0,1457.0 L1144.5,1399.0 L1145.0,1442.5 L1145.5,1420.8 L1146.0,1391.8 L1146.5,1413.5 L1147.1,1435.2 L1147.6,1399.0 L1148.1,1384.5 L1148.6,1457.0 L1149.1,1435.2 L1149.6,1428.0 L1150.2,1377.2 L1150.7,1399.0 L1151.2,1336.0 L1151.7,1377.2 L1152.2,1399.0 L1152.7,1384.5 L1153.2,1413.5 L1153.8,1384.5 L1154.3,1370.0 L1154.8,1420.8 L1155.3,1442.5 L1155.8,1413.5 L1156.3,1391.8 L1156.8,1399.0 L1157.4,1435.2 L1157.9,1377.2 L1158.4,1384.5 L1158.9,1435.2 L1159.4,1449.8 L1159.9,1413.5 L1160.4,1399.0 L1161.0,1449.8 L1161.5,1428.0 L1162.0,1420.8 L1162.5,1428.0 L1163.0,1464.2 L1163.5,1399.0 L1164.0,1435.2 L1164.6,1420.8 L1165.1,1413.5 L1165.6,1406.2 L1166.1,1435.2 L1166.6,1442.5 L1167.1,1442.5 L1167.6,1442.5 L1168.2,1449.8 L1168.7,1442.5 L1169.2,1449.8 L1169.7,1449.8 L1170.2,1399.0 L1170.7,1377.2 L1171.3,1442.5 L1171.8,1449.8 L1172.3,1428.0 L1172.8,1384.5 L1173.3,1449.8 L1173.8,1435.2 L1174.3,1413.5 L1174.9,1428.0 L1175.4,1449.8 L1175.9,1420.8 L1176.4,1435.2 L1176.9,1428.0 L1177.4,1420.8 L1177.9,1449.8 L1178.5,1442.5 L1179.0,1406.2 L1179.5,1449.8 L1180.0,1464.2 L1180.5,1457.0 L1181.0,1362.8 L1181.5,1435.2 L1182.1,1420.8 L1182.6,1435.2 L1183.1,1428.0 L1183.6,1464.2 L1184.1,1464.2 L1184.6,1413.5 L1185.1,1449.8 L1185.7,1457.0 L1186.2,1457.0 L1186.7,1413.5 L1187.2,1406.2 L1187.7,1428.0 L1188.2,1391.8 L1188.8,1464.2 L1189.3,1435.2 L1189.8,1413.5 L1190.3,1413.5 L1190.8,1428.0 L1191.3,1442.5 L1191.8,1435.2 L1192.4,1391.8 L1192.9,1435.2 L1193.4,1442.5 L1193.9,1399.0 L1194.4,1449.8 L1194.9,1435.2 L1195.4,1428.0 L1196.0,1464.2 L1196.5,1442.5 L1197.0,1464.2 L1197.5,1428.0 L1198.0,1435.2 L1198.5,1406.2 L1199.0,1435.2 L1199.6,1449.8 L1200.1,1435.2 L1200.6,1449.8 L1201.1,1435.2 L1201.6,1435.2 L1202.1,1457.0 L1202.6,1435.2 L1203.2,1420.8 L1203.7,1399.0 L1204.2,1435.2 L1204.7,1399.0 L1205.2,1442.5 L1205.7,1442.5 L1206.2,1435.2 L1206.8,1428.0 L1207.3,1442.5 L1207.8,1435.2 L1208.3,1428.0 L1208.8,1435.2 L1209.3,1435.2 L1209.9,1442.5 L1210.4,1428.0 L1210.9,1435.2 L1211.4,1442.5 L1211.9,1442.5 L1212.4,1413.5 L1212.9,1420.8 L1213.5,1420.8 L1214.0,1435.2 L1214.5,1413.5 L1215.0,1406.2 L1215.5,1420.8 L1216.0,1457.0 L1216.5,1464.2 L1217.1,1435.2 L1217.6,1435.2 L1218.1,1442.5 L1218.6,1435.2 L1219.1,1428.0 L1219.6,1413.5 L1220.1,1449.8 L1220.7,1442.5 L1221.2,1428.0 L1221.7,1457.0 L1222.2,1449.8 L1222.7,1420.8 L1223.2,1413.5 L1223.7,1420.8 L1224.3,1449.8 L1224.8,1428.0 L1225.3,1399.0 L1225.8,1449.8 L1226.3,1457.0 L1226.8,1428.0 L1227.4,1464.2 L1227.9,1420.8 L1228.4,1435.2 L1228.9,1428.0 L1229.4,1435.2 L1229.9,1449.8 L1230.4,1420.8 L1231.0,1464.2 L1231.5,1406.2 L1232.0,1435.2 L1232.5,1471.5 L1233.0,1435.2 L1233.5,1406.2 L1234.0,1435.2 L1234.6,1413.5 L1235.1,1435.2 L1235.6,1435.2 L1236.1,1428.0 L1236.6,1442.5 L1237.1,1428.0 L1237.6,1442.5 L1238.2,1420.8 L1238.7,1449.8 L1239.2,1399.0 L1239.7,1391.8 L1240.2,1435.2 L1240.7,1435.2 L1241.2,1428.0 L1241.8,1442.5 L1242.3,1449.8 L1242.8,1442.5 L1243.3,1435.2 L1243.8,1428.0 L1244.3,1428.0 L1244.8,1464.2 L1245.4,1449.8 L1245.9,1449.8 L1246.4,1384.5 L1246.9,1413.5 L1247.4,1406.2 L1247.9,1442.5 L1248.5,1428.0 L1249.0,1420.8 L1249.5,1435.2 L1250.0,1435.2 L1250.5,1377.2 L1251.0,1457.0 L1251.5,1435.2 L1252.1,1442.5 L1252.6,1449.8 L1253.1,1413.5 L1253.6,1442.5 L1254.1,1442.5 L1254.6,1464.2 L1255.1,1420.8 L1255.7,1449.8 L1256.2,1442.5 L1256.7,1449.8 L1257.2,1428.0 L1257.7,1435.2 L1258.2,1428.0 L1258.7,1428.0 L1259.3,1399.0 L1259.8,1449.8 L1260.3,1449.8 L1260.8,1435.2 L1261.3,1399.0 L1261.8,1435.2 L1262.3,1449.8 L1262.9,1442.5 L1263.4,1457.0 L1263.9,1413.5 L1264.4,1428.0 L1264.9,1406.2 L1265.4,1428.0 L1266.0,1435.2 L1266.5,1406.2 L1267.0,1428.0 L1267.5,1406.2 L1268.0,1449.8 L1268.5,1384.5 L1269.0,1413.5 L1269.6,1435.2 L1270.1,1406.2 L1270.6,1413.5 L1271.1,1420.8 L1271.6,1399.0 L1272.1,1428.0 L1272.6,1449.8 L1273.2,1406.2 L1273.7,1428.0 L1274.2,1399.0 L1274.7,1370.0 L1275.2,1406.2 L1275.7,1413.5 L1276.2,1384.5 L1276.8,1377.2 L1277.3,1449.8 L1277.8,1406.2 L1278.3,1428.0 L1278.8,1420.8 L1279.3,1391.8 L1279.8,1355.5 L1280.4,1384.5 L1280.9,1362.8 L1281.4,1420.8 L1281.9,1333.8 L1282.4,1362.8 L1282.9,1413.5 L1283.4,1391.8 L1284.0,1333.8 L1284.5,1370.0 L1285.0,1370.0 L1285.5,1348.2 L1286.0,1319.2 L1286.5,1348.2 L1287.1,1310.8 L1287.6,1303.5 L1288.1,1341.0 L1288.6,1406.2 L1289.1,1310.8 L1289.6,1355.5 L1290.1,1362.8 L1290.7,1326.5 L1291.2,1362.8 L1291.7,1341.0 L1292.2,1377.2 L1292.7,1355.5 L1293.2,1377.2 L1293.7,1391.8 L1294.3,1370.0 L1294.8,1384.5 L1295.3,1420.8 L1295.8,1370.0 L1296.3,1413.5 L1296.8,1406.2 L1297.3,1413.5 L1297.9,1399.0 L1298.4,1413.5 L1298.9,1435.2 L1299.4,1391.8 L1299.9,1420.8 L1300.4,1420.8 L1300.9,1420.8 L1301.5,1384.5 L1302.0,1435.2 L1302.5,1428.0 L1303.0,1391.8 L1303.5,1435.2 L1304.0,1413.5 L1304.6,1406.2 L1305.1,1413.5 L1305.6,1435.2 L1306.1,1435.2 L1306.6,1442.5 L1307.1,1428.0 L1307.6,1420.8 L1308.2,1384.5 L1308.7,1406.2 L1309.2,1406.2 L1309.7,1449.8 L1310.2,1442.5 L1310.7,1464.2 L1311.2,1406.2 L1311.8,1370.0 L1312.3,1449.8 L1312.8,1420.8 L1313.3,1449.8 L1313.8,1420.8 L1314.3,1435.2 L1314.8,1413.5 L1315.4,1464.2 L1315.9,1435.2 L1316.4,1442.5 L1316.9,1420.8 L1317.4,1435.2 L1317.9,1428.0 L1318.4,1420.8 L1319.0,1464.2 L1319.5,1413.5 L1320.0,1442.5 L1320.5,1435.2 L1321.0,1406.2 L1321.5,1428.0 L1322.0,1399.0 L1322.6,1406.2 L1323.1,1435.2 L1323.6,1399.0 L1324.1,1413.5 L1324.6,1435.2 L1325.1,1399.0 L1325.7,1449.8 L1326.2,1435.2 L1326.7,1449.8 L1327.2,1435.2 L1327.7,1428.0 L1328.2,1449.8 L1328.7,1377.2 L1329.3,1442.5 L1329.8,1406.2 L1330.3,1435.2 L1330.8,1406.2 L1331.3,1413.5 L1331.8,1428.0 L1332.3,1435.2 L1332.9,1442.5 L1333.4,1428.0 L1333.9,1413.5 L1334.4,1420.8 L1334.9,1428.0 L1335.4,1391.8 L1335.9,1420.8 L1336.5,1413.5 L1337.0,1442.5 L1337.5,1420.8 L1338.0,1428.0 L1338.5,1406.2 L1339.0,1413.5 L1339.5,1362.8 L1340.1,1413.5 L1340.6,1428.0 L1341.1,1428.0 L1341.6,1420.8 L1342.1,1406.2 L1342.6,1449.8 L1343.2,1406.2 L1343.7,1399.0 L1344.2,1391.8 L1344.7,1428.0 L1345.2,1413.5 L1345.7,1442.5 L1346.2,1413.5 L1346.8,1435.2 L1347.3,1399.0 L1347.8,1384.5 L1348.3,1384.5 L1348.8,1406.2 L1349.3,1420.8 L1349.8,1348.2 L1350.4,1370.0 L1350.9,1399.0 L1351.4,1413.5 L1351.9,1384.5 L1352.4,1362.8 L1352.9,1406.2 L1353.4,1362.8 L1354.0,1384.5 L1354.5,1341.0 L1355.0,1362.8 L1355.5,1399.0 L1356.0,1406.2 L1356.5,1348.2 L1357.0,1341.0 L1357.6,1384.5 L1358.1,1362.8 L1358.6,1377.2 L1359.1,1355.5 L1359.6,1341.0 L1360.1,1362.8 L1360.6,1326.5 L1361.2,1333.8 L1361.7,1348.2 L1362.2,1319.2 L1362.7,1326.5 L1363.2,1297.5 L1363.7,1391.8 L1364.3,1319.2 L1364.8,1261.2 L1365.3,1268.5 L1365.8,1254.0 L1366.3,1290.2 L1366.8,1261.2 L1367.3,1261.2 L1367.9,1246.8 L1368.4,1181.5 L1368.9,1181.5 L1369.4,1232.2 L1369.9,1210.5 L1370.4,1181.5 L1370.9,1084.2 L1371.5,1181.5 L1372.0,1084.2 L1372.5,1123.5 L1373.0,1123.5 L1373.5,1077.0 L1374.0,1087.2 L1374.5,1123.5 L1375.1,1167.0 L1375.6,1196.0 L1376.1,1138.0 L1376.6,1217.8 L1377.1,1152.5 L1377.6,1188.8 L1378.1,1203.2 L1378.7,1319.2 L1379.2,1203.2 L1379.7,1283.0 L1380.2,1290.2 L1380.7,1203.2 L1381.2,1268.5 L1381.8,1261.2 L1382.3,1290.2 L1382.8,1341.0 L1383.3,1312.0 L1383.8,1239.5 L1384.3,1326.5 L1384.8,1275.8 L1385.4,1333.8 L1385.9,1297.5 L1386.4,1362.8 L1386.9,1312.0 L1387.4,1341.0 L1387.9,1355.5 L1388.4,1275.8 L1389.0,1399.0 L1389.5,1384.5 L1390.0,1370.0 L1390.5,1326.5 L1391.0,1391.8 L1391.5,1355.5 L1392.0,1326.5 L1392.6,1362.8 L1393.1,1362.8 L1393.6,1384.5 L1394.1,1362.8 L1394.6,1406.2 L1395.1,1435.2 L1395.6,1399.0 L1396.2,1341.0 L1396.7,1384.5 L1397.2,1391.8 L1397.7,1377.2 L1398.2,1428.0 L1398.7,1457.0 L1399.2,1413.5 L1399.8,1406.2 L1400.3,1413.5 L1400.8,1420.8 L1401.3,1399.0 L1401.8,1420.8 L1402.3,1391.8 L1402.9,1406.2 L1403.4,1420.8 L1403.9,1413.5 L1404.4,1406.2 L1404.9,1406.2 L1405.4,1449.8 L1405.9,1449.8 L1406.5,1399.0 L1407.0,1413.5 L1407.5,1420.8 L1408.0,1399.0 L1408.5,1420.8 L1409.0,1413.5 L1409.5,1442.5 L1410.1,1420.8 L1410.6,1413.5 L1411.1,1464.2 L1411.6,1420.8 L1412.1,1413.5 L1412.6,1399.0 L1413.1,1391.8 L1413.7,1428.0 L1414.2,1406.2 L1414.7,1413.5 L1415.2,1449.8 L1415.7,1457.0 L1416.2,1435.2 L1416.7,1428.0 L1417.3,1413.5 L1417.8,1435.2 L1418.3,1406.2 L1418.8,1420.8 L1419.3,1384.5 L1419.8,1413.5 L1420.4,1391.8 L1420.9,1391.8 L1421.4,1449.8 L1421.9,1457.0 L1422.4,1428.0 L1422.9,1435.2 L1423.4,1442.5 L1424.0,1442.5 L1424.5,1435.2 L1425.0,1413.5 L1425.5,1457.0 L1426.0,1406.2 L1426.5,1449.8 L1427.0,1457.0 L1427.6,1435.2 L1428.1,1464.2 L1428.6,1442.5 L1429.1,1428.0 L1429.6,1413.5 L1430.1,1420.8 L1430.6,1435.2 L1431.2,1420.8 L1431.7,1420.8 L1432.2,1413.5 L1432.7,1457.0 L1433.2,1442.5 L1433.7,1420.8 L1434.2,1413.5 L1434.8,1428.0 L1435.3,1435.2 L1435.8,1442.5 L1436.3,1457.0 L1436.8,1442.5 L1437.3,1420.8 L1437.8,1442.5 L1438.4,1428.0 L1438.9,1442.5 L1439.4,1471.5 L1439.9,1420.8 L1440.4,1442.5 L1440.9,1406.2 L1441.5,1428.0 L1442.0,1413.5 L1442.5,1457.0 L1443.0,1428.0 L1443.5,1442.5 L1444.0,1478.8 L1444.5,1413.5 L1445.1,1464.2 L1445.6,1442.5 L1446.1,1428.0 L1446.6,1449.8 L1447.1,1435.2 L1447.6,1413.5 L1448.1,1420.8 L1448.7,1442.5 L1449.2,1457.0 L1449.7,1428.0 L1450.2,1435.2 L1450.7,1420.8 L1451.2,1384.5 L1451.7,1399.0 L1452.3,1428.0 L1452.8,1428.0 L1453.3,1406.2 L1453.8,1442.5 L1454.3,1442.5 L1454.8,1442.5 L1455.3,1384.5 L1455.9,1449.8 L1456.4,1413.5 L1456.9,1457.0 L1457.4,1413.5 L1457.9,1428.0 L1458.4,1457.0 L1459.0,1413.5 L1459.5,1449.8 L1460.0,1435.2 L1460.5,1377.2 L1461.0,1428.0 L1461.5,1428.0 L1462.0,1457.0 L1462.6,1406.2 L1463.1,1406.2 L1463.6,1428.0 L1464.1,1420.8 L1464.6,1449.8 L1465.1,1420.8 L1465.6,1442.5 L1466.2,1391.8 L1466.7,1428.0 L1467.2,1413.5 L1467.7,1435.2 L1468.2,1428.0 L1468.7,1449.8 L1469.2,1435.2 L1469.8,1464.2 L1470.3,1449.8 L1470.8,1442.5 L1471.3,1435.2 L1471.8,1406.2 L1472.3,1413.5 L1472.8,1449.8 L1473.4,1420.8 L1473.9,1428.0 L1474.4,1399.0 L1474.9,1428.0 L1475.4,1449.8 L1475.9,1413.5 L1476.4,1428.0 L1477.0,1391.8 L1477.5,1384.5 L1478.0,1384.5 L1478.5,1391.8 L1479.0,1413.5 L1479.5,1428.0 L1480.1,1413.5 L1480.6,1420.8 L1481.1,1391.8 L1481.6,1428.0 L1482.1,1420.8 L1482.6,1370.0 L1483.1,1391.8 L1483.7,1449.8 L1484.2,1399.0 L1484.7,1449.8 L1485.2,1420.8 L1485.7,1391.8 L1486.2,1435.2 L1486.7,1399.0 L1487.3,1406.2 L1487.8,1435.2 L1488.3,1428.0 L1488.8,1449.8 L1489.3,1406.2 L1489.8,1420.8 L1490.3,1406.2 L1490.9,1384.5 L1491.4,1399.0 L1491.9,1362.8 L1492.4,1406.2 L1492.9,1399.0 L1493.4,1406.2 L1493.9,1442.5 L1494.5,1449.8 L1495.0,1420.8 L1495.5,1384.5 L1496.0,1391.8 L1496.5,1413.5 L1497.0,1406.2 L1497.6,1362.8 L1498.1,1384.5 L1498.6,1420.8 L1499.1,1341.0 L1499.6,1399.0 L1500.1,1384.5 L1500.6,1370.0 L1501.2,1355.5 L1501.7,1384.5 L1502.2,1384.5 L1502.7,1355.5 L1503.2,1348.2 L1503.7,1370.0 L1504.2,1370.0 L1504.8,1370.0 L1505.3,1362.8 L1505.8,1370.0 L1506.3,1341.0 L1506.8,1370.0 L1507.3,1348.2 L1507.8,1377.2 L1508.4,1370.0 L1508.9,1261.2 L1509.4,1333.8 L1509.9,1268.5 L1510.4,1333.8 L1510.9,1239.5 L1511.4,1167.0 L1512.0,1290.2 L1512.5,1261.2 L1513.0,1312.0 L1513.5,1290.2 L1514.0,1225.0 L1514.5,1188.8 L1515.0,1203.2 L1515.6,1159.8 L1516.1,1239.5 L1516.6,1188.8 L1517.1,1196.0 L1517.6,1145.2 L1518.1,1159.8 L1518.7,1046.0 L1519.2,1152.5 L1519.7,1181.5 L1520.2,1159.8 L1520.7,1123.5 L1521.2,1123.5 L1521.7,1246.8 L1522.3,1167.0 L1522.8,1138.0 L1523.3,1188.8 L1523.8,1203.2 L1524.3,1232.2 L1524.8,1210.5 L1525.3,1239.5 L1525.9,1239.5 L1526.4,1232.2 L1526.9,1283.0 L1527.4,1239.5 L1527.9,1261.2 L1528.4,1261.2 L1528.9,1304.8 L1529.5,1319.2 L1530.0,1304.8 L1530.5,1362.8 L1531.0,1297.5 L1531.5,1261.2 L1532.0,1261.2 L1532.5,1225.0 L1533.1,1283.0 L1533.6,1362.8 L1534.1,1275.8 L1534.6,1333.8 L1535.1,1341.0 L1535.6,1275.8 L1536.2,1232.2 L1536.7,1319.2 L1537.2,1268.5 L1537.7,1319.2 L1538.2,1348.2 L1538.7,1312.0 L1539.2,1362.8 L1539.8,1355.5 L1540.3,1333.8 L1540.8,1355.5 L1541.3,1355.5 L1541.8,1362.8 L1542.3,1391.8 L1542.8,1362.8 L1543.4,1391.8 L1543.9,1391.8 L1544.4,1435.2 L1544.9,1449.8 L1545.4,1370.0 L1545.9,1370.0 L1546.4,1391.8 L1547.0,1435.2 L1547.5,1413.5 L1548.0,1391.8 L1548.5,1399.0 L1549.0,1370.0 L1549.5,1399.0 L1550.0,1413.5 L1550.6,1428.0 L1551.1,1420.8 L1551.6,1428.0 L1552.1,1377.2 L1552.6,1399.0 L1553.1,1420.8 L1553.6,1420.8 L1554.2,1377.2 L1554.7,1442.5 L1555.2,1413.5 L1555.7,1391.8 L1556.2,1442.5 L1556.7,1406.2 L1557.3,1413.5 L1557.8,1399.0 L1558.3,1457.0 L1558.8,1420.8 L1559.3,1406.2 L1559.8,1457.0 L1560.3,1449.8 L1560.9,1420.8 L1561.4,1420.8 L1561.9,1428.0 L1562.4,1428.0 L1562.9,1428.0 L1563.4,1406.2 L1563.9,1435.2 L1564.5,1435.2 L1565.0,1457.0 L1565.5,1420.8 L1566.0,1442.5 L1566.5,1435.2 L1567.0,1399.0 L1567.5,1442.5 L1568.1,1457.0 L1568.6,1464.2 L1569.1,1420.8 L1569.6,1391.8 L1570.1,1420.8 L1570.6,1428.0 L1571.1,1435.2 L1571.7,1399.0 L1572.2,1406.2 L1572.7,1435.2 L1573.2,1449.8 L1573.7,1413.5 L1574.2,1442.5 L1574.8,1428.0 L1575.3,1420.8 L1575.8,1457.0 L1576.3,1435.2 L1576.8,1435.2 L1577.3,1420.8 L1577.8,1435.2 L1578.4,1442.5 L1578.9,1413.5 L1579.4,1449.8 L1579.9,1420.8 L1580.4,1435.2 L1580.9,1442.5 L1581.4,1391.8 L1582.0,1420.8 L1582.5,1435.2 L1583.0,1413.5 L1583.5,1435.2 L1584.0,1420.8 L1584.5,1442.5 L1585.0,1442.5 L1585.6,1442.5 L1586.1,1449.8 L1586.6,1413.5 L1587.1,1449.8 L1587.6,1428.0 L1588.1,1428.0 L1588.6,1420.8 L1589.2,1435.2 L1589.7,1420.8 L1590.2,1457.0 L1590.7,1428.0 L1591.2,1428.0 L1591.7,1442.5 L1592.2,1428.0 L1592.8,1457.0 L1593.3,1457.0 L1593.8,1464.2 L1594.3,1442.5 L1594.8,1449.8 L1595.3,1435.2 L1595.9,1442.5 L1596.4,1435.2 L1596.9,1442.5 L1597.4,1420.8 L1597.9,1442.5 L1598.4,1457.0 L1598.9,1449.8 L1599.5,1428.0 L1600.0,1428.0 L1600.5,1428.0 L1601.0,1471.5 L1601.5,1420.8 L1602.0,1442.5 L1602.5,1413.5 L1603.1,1420.8 L1603.6,1406.2 L1604.1,1449.8 L1604.6,1428.0 L1605.1,1464.2 L1605.6,1449.8 L1606.1,1428.0 L1606.7,1464.2 L1607.2,1457.0 L1607.7,1449.8 L1608.2,1464.2 L1608.7,1442.5 L1609.2,1442.5 L1609.7,1464.2 L1610.3,1471.5 L1610.8,1435.2 L1611.3,1428.0 L1611.8,1442.5 L1612.3,1413.5 L1612.8,1413.5 L1613.4,1457.0 L1613.9,1449.8 L1614.4,1428.0 L1614.9,1457.0 L1615.4,1428.0 L1615.9,1420.8 L1616.4,1420.8 L1617.0,1435.2 L1617.5,1435.2 L1618.0,1428.0 L1618.5,1428.0 L1619.0,1449.8 L1619.5,1428.0 L1620.0,1464.2 L1620.6,1449.8 L1621.1,1420.8 L1621.6,1442.5 L1622.1,1428.0 L1622.6,1449.8 L1623.1,1428.0 L1623.6,1428.0 L1624.2,1391.8 L1624.7,1435.2 L1625.2,1435.2 L1625.7,1399.0 L1626.2,1428.0 L1626.7,1442.5 L1627.2,1435.2 L1627.8,1442.5 L1628.3,1449.8 L1628.8,1442.5 L1629.3,1449.8 L1629.8,1391.8 L1630.3,1420.8 L1630.8,1435.2 L1631.4,1406.2 L1631.9,1442.5 L1632.4,1435.2 L1632.9,1399.0 L1633.4,1442.5 L1633.9,1428.0 L1634.5,1435.2 L1635.0,1406.2 L1635.5,1435.2 L1636.0,1428.0 L1636.5,1413.5 L1637.0,1457.0 L1637.5,1449.8 L1638.1,1413.5 L1638.6,1428.0 L1639.1,1420.8 L1639.6,1442.5 L1640.1,1420.8 L1640.6,1442.5 L1641.1,1377.2 L1641.7,1420.8 L1642.2,1435.2 L1642.7,1428.0 L1643.2,1420.8 L1643.7,1420.8 L1644.2,1435.2 L1644.7,1399.0 L1645.3,1377.2 L1645.8,1399.0 L1646.3,1413.5 L1646.8,1406.2 L1647.3,1420.8 L1647.8,1370.0 L1648.3,1420.8 L1648.9,1377.2 L1649.4,1391.8 L1649.9,1310.2 L1650.4,1384.5 L1650.9,1303.0 L1651.4,1348.2 L1652.0,1326.5 L1652.5,1355.5 L1653.0,1384.5 L1653.5,1341.0 L1654.0,1413.5 L1654.5,1370.0 L1655.0,1428.0 L1655.6,1406.2 L1656.1,1413.5 L1656.6,1391.8 L1657.1,1420.8 L1657.6,1435.2 L1658.1,1428.0 L1658.6,1384.5 L1659.2,1413.5 L1659.7,1471.5 L1660.2,1420.8 L1660.7,1442.5 L1661.2,1428.0 L1661.7,1428.0 L1662.2,1413.5 L1662.8,1413.5 L1663.3,1420.8 L1663.8,1399.0 L1664.3,1428.0 L1664.8,1442.5 L1665.3,1442.5 L1665.8,1442.5 L1666.4,1420.8 L1666.9,1457.0 L1667.4,1399.0 L1667.9,1442.5 L1668.4,1442.5 L1668.9,1428.0 L1669.4,1449.8 L1670.0,1471.5 L1670.5,1442.5 L1671.0,1435.2 L1671.5,1435.2 L1672.0,1420.8 L1672.5,1428.0 L1673.1,1449.8 L1673.6,1457.0 L1674.1,1449.8 L1674.6,1442.5 L1675.1,1428.0 L1675.6,1449.8 L1676.1,1420.8 L1676.7,1428.0 L1677.2,1435.2 L1677.7,1457.0 L1678.2,1399.0 L1678.7,1449.8 L1679.2,1406.2 L1679.7,1420.8 L1680.3,1428.0 L1680.8,1471.5 L1681.3,1420.8 L1681.8,1435.2 L1682.3,1420.8 L1682.8,1428.0 L1683.3,1435.2 L1683.9,1391.8 L1684.4,1435.2 L1684.9,1442.5 L1685.4,1464.2 L1685.9,1464.2 L1686.4,1413.5 L1686.9,1391.8 L1687.5,1471.5 L1688.0,1420.8 L1688.5,1420.8 L1689.0,1413.5 L1689.5,1471.5 L1690.0,1457.0 L1690.6,1428.0 L1691.1,1449.8 L1691.6,1399.0 L1692.1,1420.8 L1692.6,1457.0 L1693.1,1377.2 L1693.6,1428.0 L1694.2,1420.8 L1694.7,1464.2 L1695.2,1449.8 L1695.7,1435.2 L1696.2,1442.5 L1696.7,1471.5 L1697.2,1428.0 L1697.8,1464.2 L1698.3,1435.2 L1698.8,1449.8 L1699.3,1442.5 L1699.8,1435.2 L1700.3,1420.8 L1700.8,1449.8 L1701.4,1435.2 L1701.9,1449.8 L1702.4,1406.2 L1702.9,1406.2 L1703.4,1413.5 L1703.9,1435.2 L1704.4,1442.5 L1705.0,1384.5 L1705.5,1384.5 L1706.0,1442.5 L1706.5,1413.5 L1707.0,1449.8 L1707.5,1442.5 L1708.0,1413.5 L1708.6,1413.5 L1709.1,1428.0 L1709.6,1457.0 L1710.1,1464.2 L1710.6,1420.8 L1711.1,1413.5 L1711.7,1442.5 L1712.2,1449.8 L1712.7,1435.2 L1713.2,1428.0 L1713.7,1457.0 L1714.2,1370.0 L1714.7,1413.5 L1715.3,1420.8 L1715.8,1428.0 L1716.3,1413.5 L1716.8,1435.2 L1717.3,1420.8 L1717.8,1413.5 L1718.3,1413.5 L1718.9,1428.0 L1719.4,1399.0 L1719.9,1362.8 L1720.4,1413.5 L1720.9,1354.0 L1721.4,1377.2 L1721.9,1370.0 L1722.5,1391.8 L1723.0,1391.8 L1723.5,1413.5 L1724.0,1457.0 L1724.5,1428.0 L1725.0,1420.8 L1725.5,1420.8 L1726.1,1420.8 L1726.6,1428.0 L1727.1,1399.0 L1727.6,1428.0 L1728.1,1384.5 L1728.6,1442.5 L1729.2,1413.5 L1729.7,1420.8 L1730.2,1435.2 L1730.7,1413.5 L1731.2,1413.5 L1731.7,1457.0 L1732.2,1435.2 L1732.8,1428.0 L1733.3,1406.2 L1733.8,1428.0 L1734.3,1435.2 L1734.8,1442.5 L1735.3,1428.0 L1735.8,1420.8 L1736.4,1428.0 L1736.9,1457.0 L1737.4,1428.0 L1737.9,1413.5 L1738.4,1457.0 L1738.9,1457.0 L1739.4,1413.5 L1740.0,1457.0 L1740.5,1457.0 L1741.0,1457.0 L1741.5,1428.0 L1742.0,1471.5 L1742.5,1442.5 L1743.0,1399.0 L1743.6,1442.5 L1744.1,1449.8 L1744.6,1449.8 L1745.1,1457.0 L1745.6,1399.0 L1746.1,1428.0 L1746.6,1457.0 L1747.2,1457.0 L1747.7,1457.0 L1748.2,1428.0 L1748.7,1413.5 L1749.2,1442.5 L1749.7,1428.0 L1750.3,1435.2 L1750.8,1435.2 L1751.3,1406.2 L1751.8,1464.2 L1752.3,1435.2 L1752.8,1449.8 L1753.3,1442.5 L1753.9,1435.2 L1754.4,1428.0 L1754.9,1406.2 L1755.4,1413.5 L1755.9,1435.2 L1756.4,1471.5 L1756.9,1399.0 L1757.5,1420.8 L1758.0,1442.5 L1758.5,1406.2 L1759.0,1435.2 L1759.5,1435.2 L1760.0,1420.8 L1760.5,1442.5 L1761.1,1442.5 L1761.6,1406.2 L1762.1,1449.8 L1762.6,1442.5 L1763.1,1457.0 L1763.6,1420.8 L1764.1,1399.0 L1764.7,1464.2 L1765.2,1428.0 L1765.7,1435.2 L1766.2,1449.8 L1766.7,1420.8 L1767.2,1406.2 L1767.8,1399.0 L1768.3,1420.8 L1768.8,1384.5 L1769.3,1406.2 L1769.8,1457.0 L1770.3,1428.0 L1770.8,1384.5 L1771.4,1406.2 L1771.9,1420.8 L1772.4,1420.8 L1772.9,1442.5 L1773.4,1442.5 L1773.9,1420.8 L1774.4,1428.0 L1775.0,1420.8 L1775.5,1420.8 L1776.0,1442.5 L1776.5,1457.0 L1777.0,1413.5 L1777.5,1391.8 L1778.0,1442.5 L1778.6,1406.2 L1779.1,1457.0 L1779.6,1442.5 L1780.1,1362.8 L1780.6,1399.0 L1781.1,1391.8 L1781.6,1435.2 L1782.2,1406.2 L1782.7,1442.5 L1783.2,1413.5 L1783.7,1435.2 L1784.2,1413.5 L1784.7,1428.0 L1785.2,1391.8 L1785.8,1428.0 L1786.3,1420.8 L1786.8,1442.5 L1787.3,1435.2 L1787.8,1406.2 L1788.3,1428.0 L1788.9,1391.8 L1789.4,1449.8 L1789.9,1399.0 L1790.4,1442.5 L1790.9,1377.2 L1791.4,1406.2 L1791.9,1377.2 L1792.5,1435.2 L1793.0,1377.2 L1793.5,1391.8 L1794.0,1435.2 L1794.5,1406.2 L1795.0,1406.2 L1795.5,1362.8 L1796.1,1399.0 L1796.6,1391.8 L1797.1,1370.0 L1797.6,1377.2 L1798.1,1384.5 L1798.6,1399.0 L1799.1,1355.5 L1799.7,1413.5 L1800.2,1362.8 L1800.7,1435.2 L1801.2,1413.5 L1801.7,1420.8 L1802.2,1377.2 L1802.7,1420.8 L1803.3,1399.0 L1803.8,1413.5 L1804.3,1428.0 L1804.8,1362.8 L1805.3,1384.5 L1805.8,1420.8 L1806.4,1449.8 L1806.9,1413.5 L1807.4,1399.0 L1807.9,1384.5 L1808.4,1377.2 L1808.9,1435.2 L1809.4,1406.2 L1810.0,1406.2 L1810.5,1384.5 L1811.0,1391.8 L1811.5,1370.0 L1812.0,1406.2 L1812.5,1420.8 L1813.0,1391.8 L1813.6,1413.5 L1814.1,1406.2 L1814.6,1384.5 L1815.1,1391.8 L1815.6,1399.0 L1816.1,1420.8 L1816.6,1384.5 L1817.2,1370.0 L1817.7,1391.8 L1818.2,1391.8 L1818.7,1413.5 L1819.2,1413.5 L1819.7,1391.8 L1820.2,1370.0 L1820.8,1406.2 L1821.3,1355.5 L1821.8,1348.2 L1822.3,1370.0 L1822.8,1312.0 L1823.3,1413.5 L1823.8,1413.5 L1824.4,1370.0 L1824.9,1391.8 L1825.4,1399.0 L1825.9,1420.8 L1826.4,1406.2 L1826.9,1406.2 L1827.5,1435.2 L1828.0,1384.5 L1828.5,1384.5 L1829.0,1384.5 L1829.5,1377.2 L1830.0,1384.5 L1830.5,1406.2 L1831.1,1399.0 L1831.6,1428.0 L1832.1,1406.2 L1832.6,1370.0 L1833.1,1399.0 L1833.6,1348.2 L1834.1,1406.2 L1834.7,1391.8 L1835.2,1384.5 L1835.7,1355.5 L1836.2,1420.8 L1836.7,1341.0 L1837.2,1377.2 L1837.7,1413.5 L1838.3,1428.0 L1838.8,1406.2 L1839.3,1406.2 L1839.8,1406.2 L1840.3,1413.5 L1840.8,1384.5 L1841.3,1362.8 L1841.9,1362.8 L1842.4,1420.8 L1842.9,1413.5 L1843.4,1355.5 L1843.9,1413.5 L1844.4,1391.8 L1845.0,1384.5 L1845.5,1384.5 L1846.0,1420.8 L1846.5,1413.5 L1847.0,1377.2 L1847.5,1435.2 L1848.0,1391.8 L1848.6,1399.0 L1849.1,1391.8 L1849.6,1406.2 L1850.1,1406.2 L1850.6,1391.8 L1851.1,1399.0 L1851.6,1362.8 L1852.2,1384.5 L1852.7,1391.8 L1853.2,1341.0 L1853.7,1377.2 L1854.2,1413.5 L1854.7,1341.0 L1855.2,1341.0 L1855.8,1362.8 L1856.3,1370.0 L1856.8,1384.5 L1857.3,1312.0 L1857.8,1355.5 L1858.3,1355.5 L1858.8,1304.8 L1859.4,1355.5 L1859.9,1384.5 L1860.4,1296.0 L1860.9,1326.5 L1861.4,1355.5 L1861.9,1341.0 L1862.4,1384.5 L1863.0,1355.5 L1863.5,1377.2 L1864.0,1420.8 L1864.5,1413.5 L1865.0,1377.2 L1865.5,1319.2 L1866.1,1413.5 L1866.6,1399.0 L1867.1,1406.2 L1867.6,1348.2 L1868.1,1406.2 L1868.6,1377.2 L1869.1,1384.5 L1869.7,1384.5 L1870.2,1435.2 L1870.7,1391.8 L1871.2,1428.0 L1871.7,1406.2 L1872.2,1471.5 L1872.7,1413.5 L1873.3,1420.8 L1873.8,1428.0 L1874.3,1435.2 L1874.8,1435.2 L1875.3,1442.5 L1875.8,1420.8 L1876.3,1457.0 L1876.9,1413.5 L1877.4,1399.0 L1877.9,1413.5 L1878.4,1391.8 L1878.9,1428.0 L1879.4,1399.0 L1879.9,1442.5 L1880.5,1406.2 L1881.0,1420.8 L1881.5,1399.0 L1882.0,1442.5 L1882.5,1428.0 L1883.0,1399.0 L1883.6,1435.2 L1884.1,1449.8 L1884.6,1406.2 L1885.1,1449.8 L1885.6,1420.8 L1886.1,1435.2 L1886.6,1464.2 L1887.2,1435.2 L1887.7,1406.2 L1888.2,1428.0 L1888.7,1406.2 L1889.2,1428.0 L1889.7,1442.5 L1890.2,1457.0 L1890.8,1399.0 L1891.3,1449.8 L1891.8,1435.2 L1892.3,1406.2 L1892.8,1464.2 L1893.3,1449.8 L1893.8,1435.2 L1894.4,1399.0 L1894.9,1442.5 L1895.4,1413.5 L1895.9,1413.5 L1896.4,1442.5 L1896.9,1391.8 L1897.4,1435.2 L1898.0,1449.8 L1898.5,1413.5 L1899.0,1413.5 L1899.5,1406.2 L1900.0,1442.5 L1900.5,1428.0 L1901.0,1449.8 L1901.6,1442.5 L1902.1,1449.8 L1902.6,1442.5 L1903.1,1449.8 L1903.6,1464.2 L1904.1,1428.0 L1904.7,1449.8 L1905.2,1457.0 L1905.7,1442.5 L1906.2,1399.0 L1906.7,1442.5 L1907.2,1435.2 L1907.7,1435.2 L1908.3,1442.5 L1908.8,1435.2 L1909.3,1413.5 L1909.8,1391.8 L1910.3,1435.2 L1910.8,1420.8 L1911.3,1442.5 L1911.9,1413.5 L1912.4,1420.8 L1912.9,1457.0 L1913.4,1464.2 L1913.9,1435.2 L1914.4,1478.8 L1914.9,1442.5 L1915.5,1435.2 L1916.0,1428.0 L1916.5,1428.0 L1917.0,1428.0 L1917.5,1384.5 L1918.0,1435.2 L1918.5,1449.8 L1919.1,1399.0 L1919.6,1471.5 L1920.1,1457.0 L1920.6,1399.0 L1921.1,1457.0 L1921.6,1420.8 L1922.2,1420.8 L1922.7,1435.2 L1923.2,1420.8 L1923.7,1457.0 L1924.2,1420.8 L1924.7,1435.2 L1925.2,1420.8 L1925.8,1442.5 L1926.3,1449.8 L1926.8,1464.2 L1927.3,1442.5 L1927.8,1428.0 L1928.3,1413.5 L1928.8,1457.0 L1929.4,1442.5 L1929.9,1435.2 L1930.4,1406.2 L1930.9,1435.2 L1931.4,1428.0 L1931.9,1435.2 L1932.4,1399.0 L1933.0,1420.8 L1933.5,1457.0 L1934.0,1457.0 L1934.5,1428.0 L1935.0,1435.2 L1935.5,1464.2 L1936.0,1413.5 L1936.6,1420.8 L1937.1,1435.2 L1937.6,1428.0 L1938.1,1377.2 L1938.6,1471.5 L1939.1,1457.0 L1939.6,1435.2 L1940.2,1406.2 L1940.7,1457.0 L1941.2,1406.2 L1941.7,1428.0 L1942.2,1442.5 L1942.7,1457.0 L1943.3,1406.2 L1943.8,1428.0 L1944.3,1428.0 L1944.8,1428.0 L1945.3,1442.5 L1945.8,1420.8 L1946.3,1442.5 L1946.9,1399.0 L1947.4,1449.8 L1947.9,1391.8 L1948.4,1442.5 L1948.9,1428.0 L1949.4,1420.8 L1949.9,1449.8 L1950.5,1449.8 L1951.0,1420.8 L1951.5,1420.8 L1952.0,1406.2 L1952.5,1457.0 L1953.0,1457.0 L1953.5,1457.0 L1954.1,1420.8 L1954.6,1442.5 L1955.1,1391.8 L1955.6,1464.2 L1956.1,1449.8 L1956.6,1449.8 L1957.1,1406.2 L1957.7,1449.8 L1958.2,1420.8 L1958.7,1420.8 L1959.2,1413.5 L1959.7,1413.5 L1960.2,1457.0 L1960.8,1435.2 L1961.3,1420.8 L1961.8,1420.8 L1962.3,1413.5 L1962.8,1457.0 L1963.3,1457.0 L1963.8,1449.8 L1964.4,1449.8 L1964.9,1435.2 L1965.4,1449.8 L1965.9,1420.8 L1966.4,1471.5 L1966.9,1413.5 L1967.4,1420.8 L1968.0,1420.8 L1968.5,1442.5 L1969.0,1428.0 L1969.5,1435.2 L1970.0,1435.2 L1970.5,1435.2 L1971.0,1435.2 L1971.6,1457.0 L1972.1,1420.8 L1972.6,1435.2 L1973.1,1413.5 L1973.6,1428.0 L1974.1,1449.8 L1974.6,1435.2 L1975.2,1457.0 L1975.7,1449.8 L1976.2,1435.2 L1976.7,1420.8 L1977.2,1435.2 L1977.7,1399.0 L1978.2,1449.8 L1978.8,1442.5 L1979.3,1449.8 L1979.8,1457.0 L1980.3,1442.5 L1980.8,1457.0 L1981.3,1457.0 L1981.9,1420.8 L1982.4,1457.0 L1982.9,1413.5 L1983.4,1442.5 L1983.9,1449.8 L1984.4,1435.2 L1984.9,1442.5 L1985.5,1457.0 L1986.0,1435.2 L1986.5,1384.5 L1987.0,1449.8 L1987.5,1428.0 L1988.0,1420.8 L1988.5,1406.2 L1989.1,1449.8 L1989.6,1406.2 L1990.1,1457.0 L1990.6,1442.5 L1991.1,1449.8 L1991.6,1442.5 L1992.1,1449.8 L1992.7,1449.8 L1993.2,1442.5 L1993.7,1449.8 L1994.2,1428.0 L1994.7,1428.0 L1995.2,1384.5 L1995.7,1420.8 L1996.3,1420.8 L1996.8,1449.8 L1997.3,1413.5 L1997.8,1420.8 L1998.3,1435.2 L1998.8,1435.2 L1999.4,1442.5 L1999.9,1457.0 L2000.4,1435.2 L2000.9,1449.8 L2001.4,1449.8 L2001.9,1442.5 L2002.4,1420.8 L2003.0,1413.5 L2003.5,1399.0 L2004.0,1457.0 L2004.5,1428.0 L2005.0,1449.8 L2005.5,1435.2 L2006.0,1413.5 L2006.6,1420.8 L2007.1,1384.5 L2007.6,1449.8 L2008.1,1399.0 L2008.6,1413.5 L2009.1,1435.2 L2009.6,1406.2 L2010.2,1413.5 L2010.7,1413.5 L2011.2,1457.0 L2011.7,1457.0 L2012.2,1399.0 L2012.7,1428.0 L2013.2,1428.0 L2013.8,1457.0 L2014.3,1428.0 L2014.8,1435.2 L2015.3,1442.5 L2015.8,1420.8 L2016.3,1435.2 L2016.8,1406.2 L2017.4,1391.8 L2017.9,1428.0 L2018.4,1420.8 L2018.9,1413.5 L2019.4,1406.2 L2019.9,1399.0 L2020.5,1362.8 L2021.0,1399.0 L2021.5,1370.0 L2022.0,1370.0 L2022.5,1341.0 L2023.0,1348.2 L2023.5,1348.2 L2024.1,1348.2 L2024.6,1355.5 L2025.1,1384.5 L2025.6,1355.5 L2026.1,1377.2 L2026.6,1399.0 L2027.1,1391.8 L2027.7,1362.8 L2028.2,1428.0 L2028.7,1435.2 L2029.2,1406.2 L2029.7,1399.0 L2030.2,1362.8 L2030.7,1341.0 L2031.3,1384.5 L2031.8,1435.2 L2032.3,1362.8 L2032.8,1370.0 L2033.3,1406.2 L2033.8,1333.8 L2034.3,1362.8 L2034.9,1413.5 L2035.4,1317.0 L2035.9,1384.5 L2036.4,1341.0 L2036.9,1377.2 L2037.4,1399.0 L2038.0,1420.8 L2038.5,1399.0 L2039.0,1362.8 L2039.5,1406.2 L2040.0,1420.8 L2040.5,1399.0 L2041.0,1406.2 L2041.6,1384.5 L2042.1,1428.0 L2042.6,1457.0 L2043.1,1464.2 L2043.6,1420.8 L2044.1,1457.0 L2044.6,1406.2 L2045.2,1420.8 L2045.7,1413.5 L2046.2,1420.8 L2046.7,1442.5 L2047.2,1391.8 L2047.7,1406.2 L2048.2,1413.5 L2048.8,1413.5 L2049.3,1449.8 L2049.8,1428.0 L2050.3,1391.8 L2050.8,1413.5 L2051.3,1413.5 L2051.8,1457.0 L2052.4,1457.0 L2052.9,1457.0 L2053.4,1413.5 L2053.9,1420.8 L2054.4,1377.2 L2054.9,1449.8 L2055.4,1464.2 L2056.0,1406.2 L2056.5,1384.5 L2057.0,1428.0 L2057.5,1442.5 L2058.0,1464.2 L2058.5,1413.5 L2059.1,1384.5 L2059.6,1406.2 L2060.1,1420.8 L2060.6,1449.8 L2061.1,1428.0 L2061.6,1420.8 L2062.1,1449.8 L2062.7,1413.5 L2063.2,1442.5 L2063.7,1420.8 L2064.2,1428.0 L2064.7,1406.2 L2065.2,1406.2 L2065.7,1391.8 L2066.3,1464.2 L2066.8,1406.2 L2067.3,1464.2 L2067.8,1442.5 L2068.3,1420.8 L2068.8,1420.8 L2069.3,1449.8 L2069.9,1428.0 L2070.4,1428.0 L2070.9,1442.5 L2071.4,1420.8 L2071.9,1442.5 L2072.4,1449.8 L2072.9,1406.2 L2073.5,1449.8 L2074.0,1442.5 L2074.5,1449.8 L2075.0,1428.0 L2075.5,1413.5 L2076.0,1464.2 L2076.6,1428.0 L2077.1,1435.2 L2077.6,1384.5 L2078.1,1435.2 L2078.6,1442.5 L2079.1,1435.2 L2079.6,1442.5 L2080.2,1471.5 L2080.7,1428.0 L2081.2,1399.0 L2081.7,1449.8 L2082.2,1435.2 L2082.7,1435.2 L2083.2,1428.0 L2083.8,1435.2 L2084.3,1435.2 L2084.8,1442.5 L2085.3,1449.8 L2085.8,1428.0 L2086.3,1420.8 L2086.8,1457.0 L2087.4,1420.8 L2087.9,1420.8 L2088.4,1377.2 L2088.9,1449.8 L2089.4,1413.5 L2089.9,1384.5 L2090.4,1399.0 L2091.0,1428.0 L2091.5,1391.8 L2092.0,1449.8 L2092.5,1428.0 L2093.0,1442.5 L2093.5,1435.2 L2094.0,1420.8 L2094.6,1435.2 L2095.1,1449.8 L2095.6,1442.5 L2096.1,1406.2 L2096.6,1420.8 L2097.1,1413.5 L2097.7,1442.5 L2098.2,1420.8 L2098.7,1384.5 L2099.2,1399.0 L2099.7,1413.5 L2100.2,1420.8 L2100.7,1420.8 L2101.3,1413.5 L2101.8,1442.5 L2102.3,1442.5 L2102.8,1442.5 L2103.3,1428.0 L2103.8,1420.8 L2104.3,1428.0 L2104.9,1399.0 L2105.4,1406.2 L2105.9,1428.0 L2106.4,1406.2 L2106.9,1420.8 L2107.4,1420.8 L2107.9,1457.0 L2108.5,1457.0 L2109.0,1435.2 L2109.5,1457.0 L2110.0,1406.2 L2110.5,1435.2 L2111.0,1428.0 L2111.5,1435.2 L2112.1,1442.5 L2112.6,1399.0 L2113.1,1413.5 L2113.6,1413.5 L2114.1,1406.2 L2114.6,1449.8 L2115.2,1406.2 L2115.7,1406.2 L2116.2,1428.0 L2116.7,1420.8 L2117.2,1420.8 L2117.7,1420.8 L2118.2,1384.5 L2118.8,1435.2 L2119.3,1399.0 L2119.8,1428.0 L2120.3,1435.2 L2120.8,1435.2 L2121.3,1413.5 L2121.8,1428.0 L2122.4,1420.8 L2122.9,1406.2 L2123.4,1413.5 L2123.9,1413.5 L2124.4,1478.8 L2124.9,1471.5 L2125.4,1413.5 L2126.0,1428.0 L2126.5,1428.0 L2127.0,1420.8 L2127.5,1420.8 L2128.0,1391.8 L2128.5,1435.2 L2129.0,1442.5 L2129.6,1428.0 L2130.1,1420.8 L2130.6,1457.0 L2131.1,1420.8 L2131.6,1428.0 L2132.1,1428.0 L2132.6,1420.8 L2133.2,1457.0 L2133.7,1428.0 L2134.2,1449.8 L2134.7,1428.0 L2135.2,1428.0 L2135.7,1420.8 L2136.3,1435.2 L2136.8,1413.5 L2137.3,1413.5 L2137.8,1413.5 L2138.3,1435.2 L2138.8,1428.0 L2139.3,1420.8 L2139.9,1420.8 L2140.4,1428.0 L2140.9,1391.8 L2141.4,1420.8 L2141.9,1442.5 L2142.4,1442.5 L2142.9,1406.2 L2143.5,1406.2 L2144.0,1442.5 L2144.5,1399.0 L2145.0,1428.0 L2145.5,1428.0 L2146.0,1391.8 L2146.5,1442.5 L2147.1,1428.0 L2147.6,1442.5 L2148.1,1442.5 L2148.6,1442.5 L2149.1,1391.8 L2149.6,1442.5 L2150.1,1391.8 L2150.7,1406.2 L2151.2,1435.2 L2151.7,1413.5 L2152.2,1449.8 L2152.7,1442.5 L2153.2,1442.5 L2153.8,1391.8 L2154.3,1449.8 L2154.8,1413.5 L2155.3,1406.2 L2155.8,1355.5 L2156.3,1384.5 L2156.8,1420.8 L2157.4,1428.0 L2157.9,1377.2 L2158.4,1377.2 L2158.9,1420.8 L2159.4,1442.5 L2159.9,1435.2 L2160.4,1391.8 L2161.0,1420.8 L2161.5,1413.5 L2162.0,1399.0 L2162.5,1399.0 L2163.0,1428.0 L2163.5,1442.5 L2164.0,1420.8 L2164.6,1384.5 L2165.1,1442.5 L2165.6,1413.5 L2166.1,1413.5 L2166.6,1399.0 L2167.1,1435.2 L2167.6,1355.5 L2168.2,1384.5 L2168.7,1420.8 L2169.2,1449.8 L2169.7,1449.8 L2170.2,1406.2 L2170.7,1420.8 L2171.2,1413.5 L2171.8,1399.0 L2172.3,1428.0 L2172.8,1464.2 L2173.3,1435.2 L2173.8,1406.2 L2174.3,1413.5 L2174.9,1442.5 L2175.4,1391.8 L2175.9,1406.2 L2176.4,1399.0 L2176.9,1391.8 L2177.4,1413.5 L2177.9,1391.8 L2178.5,1406.2 L2179.0,1377.2 L2179.5,1428.0 L2180.0,1413.5 L2180.5,1355.5 L2181.0,1420.8 L2181.5,1449.8 L2182.1,1370.0 L2182.6,1391.8 L2183.1,1391.8 L2183.6,1355.5 L2184.1,1435.2 L2184.6,1377.2 L2185.1,1399.0 L2185.7,1377.2 L2186.2,1413.5 L2186.7,1420.8 L2187.2,1413.5 L2187.7,1399.0 L2188.2,1435.2 L2188.7,1413.5 L2189.3,1428.0 L2189.8,1428.0 L2190.3,1413.5 L2190.8,1413.5 L2191.3,1435.2 L2191.8,1435.2 L2192.4,1391.8 L2192.9,1457.0 L2193.4,1420.8 L2193.9,1406.2 L2194.4,1362.8 L2194.9,1370.0 L2195.4,1399.0 L2196.0,1428.0 L2196.5,1406.2 L2197.0,1428.0 L2197.5,1362.8 L2198.0,1428.0 L2198.5,1420.8 L2199.0,1420.8 L2199.6,1428.0 L2200.1,1413.5 L2200.6,1413.5 L2201.1,1428.0 L2201.6,1420.8 L2202.1,1406.2 L2202.6,1377.2 L2203.2,1355.5 L2203.7,1420.8 L2204.2,1384.5 L2204.7,1391.8 L2205.2,1399.0 L2205.7,1399.0 L2206.2,1442.5 L2206.8,1413.5 L2207.3,1399.0 L2207.8,1391.8 L2208.3,1420.8 L2208.8,1377.2 L2209.3,1406.2 L2209.8,1377.2 L2210.4,1442.5 L2210.9,1406.2 L2211.4,1399.0 L2211.9,1391.8 L2212.4,1370.0 L2212.9,1391.8 L2213.5,1384.5 L2214.0,1428.0 L2214.5,1406.2 L2215.0,1391.8 L2215.5,1370.0 L2216.0,1406.2 L2216.5,1391.8 L2217.1,1420.8 L2217.6,1413.5 L2218.1,1406.2 L2218.6,1355.5 L2219.1,1406.2 L2219.6,1384.5 L2220.1,1303.0 L2220.7,1391.8 L2221.2,1413.5 L2221.7,1391.8 L2222.2,1384.5 L2222.7,1348.2 L2223.2,1413.5 L2223.7,1348.2 L2224.3,1333.8 L2224.8,1420.8 L2225.3,1399.0 L2225.8,1355.5 L2226.3,1399.0 L2226.8,1406.2" fill="none" stroke="#ff0000" stroke-width="3" stroke-linejoin="round" stroke-linecap="butt" shape-rendering="crispEdges"/>
<rect x="168.5" y="32.5" width="2058.0" height="1562.0" fill="none" stroke="#000" stroke-width="7"/>
<path d="M425.5,1594.5 V1626 M940.5,1594.5 V1626 M1454.5,1594.5 V1626 M1969.5,1594.5 V1626 M168.5,1594.5 V1610 M682.5,1594.5 V1610 M1197.5,1594.5 V1610 M1712.5,1594.5 V1610 M2226.5,1594.5 V1610" fill="none" stroke="#000" stroke-width="7"/>
<text class="tk" transform="translate(426.7 1704) scale(1.035 1)">20</text>
<text class="tk" transform="translate(941.4 1704) scale(1.035 1)">40</text>
<text class="tk" transform="translate(1456.0 1704) scale(1.035 1)">60</text>
<text class="tk" transform="translate(1970.7 1704) scale(1.035 1)">80</text>
<text class="ax" transform="translate(1197 1816) scale(1.12 1)" style="letter-spacing:-1.8px">2θ (°)</text>
<text class="ax" transform="translate(97 813.5) rotate(-90) scale(1.10 1)" style="font-size:80px;letter-spacing:-2.25px;stroke:#000;stroke-width:0.7px">Intensity(a.u.)</text>
<text class="sym" transform="matrix(0.6860 0 0 0.6095 368.98 1308.50)">♣</text>
<text class="sym" transform="matrix(0.6860 0 0 0.6137 639.98 1120.80)">♣</text>
<text class="sym" transform="matrix(0.6860 0 0 0.6095 769.98 401.70)">♣</text>
<text class="sym" transform="matrix(0.6860 0 0 0.6121 834.98 1216.00)">♣</text>
<text class="sym" transform="matrix(0.6860 0 0 0.6054 966.98 577.30)">♣</text>
<text class="sym" transform="matrix(0.6860 0 0 0.6121 1036.98 1247.90)">♣</text>
<text class="sym" transform="matrix(0.6860 0 0 0.6121 1119.98 1359.80)">♣</text>
<text class="sym" transform="matrix(0.6860 0 0 0.6121 1237.98 1300.90)">♣</text>
<text class="sym" transform="matrix(0.6860 0 0 0.6137 1312.98 1063.70)">♣</text>
<text class="sym" transform="matrix(0.6860 0 0 0.6121 1475.98 1044.80)">♣</text>
<text class="sym" transform="matrix(0.6860 0 0 0.6146 1689.98 1346.90)">♣</text>
<text class="sym" transform="matrix(0.6860 0 0 0.6146 1656.98 251.00)">♣</text>
<text class="sym" transform="matrix(0.6804 0 0 0.6146 972.31 475.70)">♦</text>
<text class="sym" transform="matrix(0.6804 0 0 0.6146 840.31 1132.70)">♦</text>
<text class="sym" transform="matrix(0.6804 0 0 0.6146 937.31 1160.70)">♦</text>
<text class="sym" transform="matrix(0.6804 0 0 0.6146 1611.31 1297.70)">♦</text>
<text class="sym" transform="matrix(0.6804 0 0 0.6146 2015.31 1311.70)">♦</text>
<text class="sym" transform="matrix(0.6804 0 0 0.6129 1667.31 353.70)">♦</text>
<text class="sym" transform="matrix(0.7387 0 0 0.6426 1125.64 1265.56)">♥</text>
<text class="sym" transform="matrix(0.7387 0 0 0.6444 1810.64 1292.55)">♥</text>
<text class="sym" transform="matrix(0.7387 0 0 0.6365 1669.64 486.97)">♥</text>
<text class="lg" transform="translate(1758.6 240) scale(1.02 1)">Fe<tspan class="sb" dy="22">3</tspan><tspan dy="-22">O</tspan><tspan class="sb" dy="22">4</tspan></text>
<text class="lg" transform="translate(1764.8 353.6) scale(1.03 1)">Fe<tspan class="sb" dy="23.5">2</tspan><tspan dy="-23.5">N</tspan></text>
<text class="lg" transform="translate(1774.6 463.5) scale(1.03 1)">Fe<tspan class="sb" dy="23.5">4</tspan><tspan dy="-23.5">N</tspan></text>
</svg></body></html>
